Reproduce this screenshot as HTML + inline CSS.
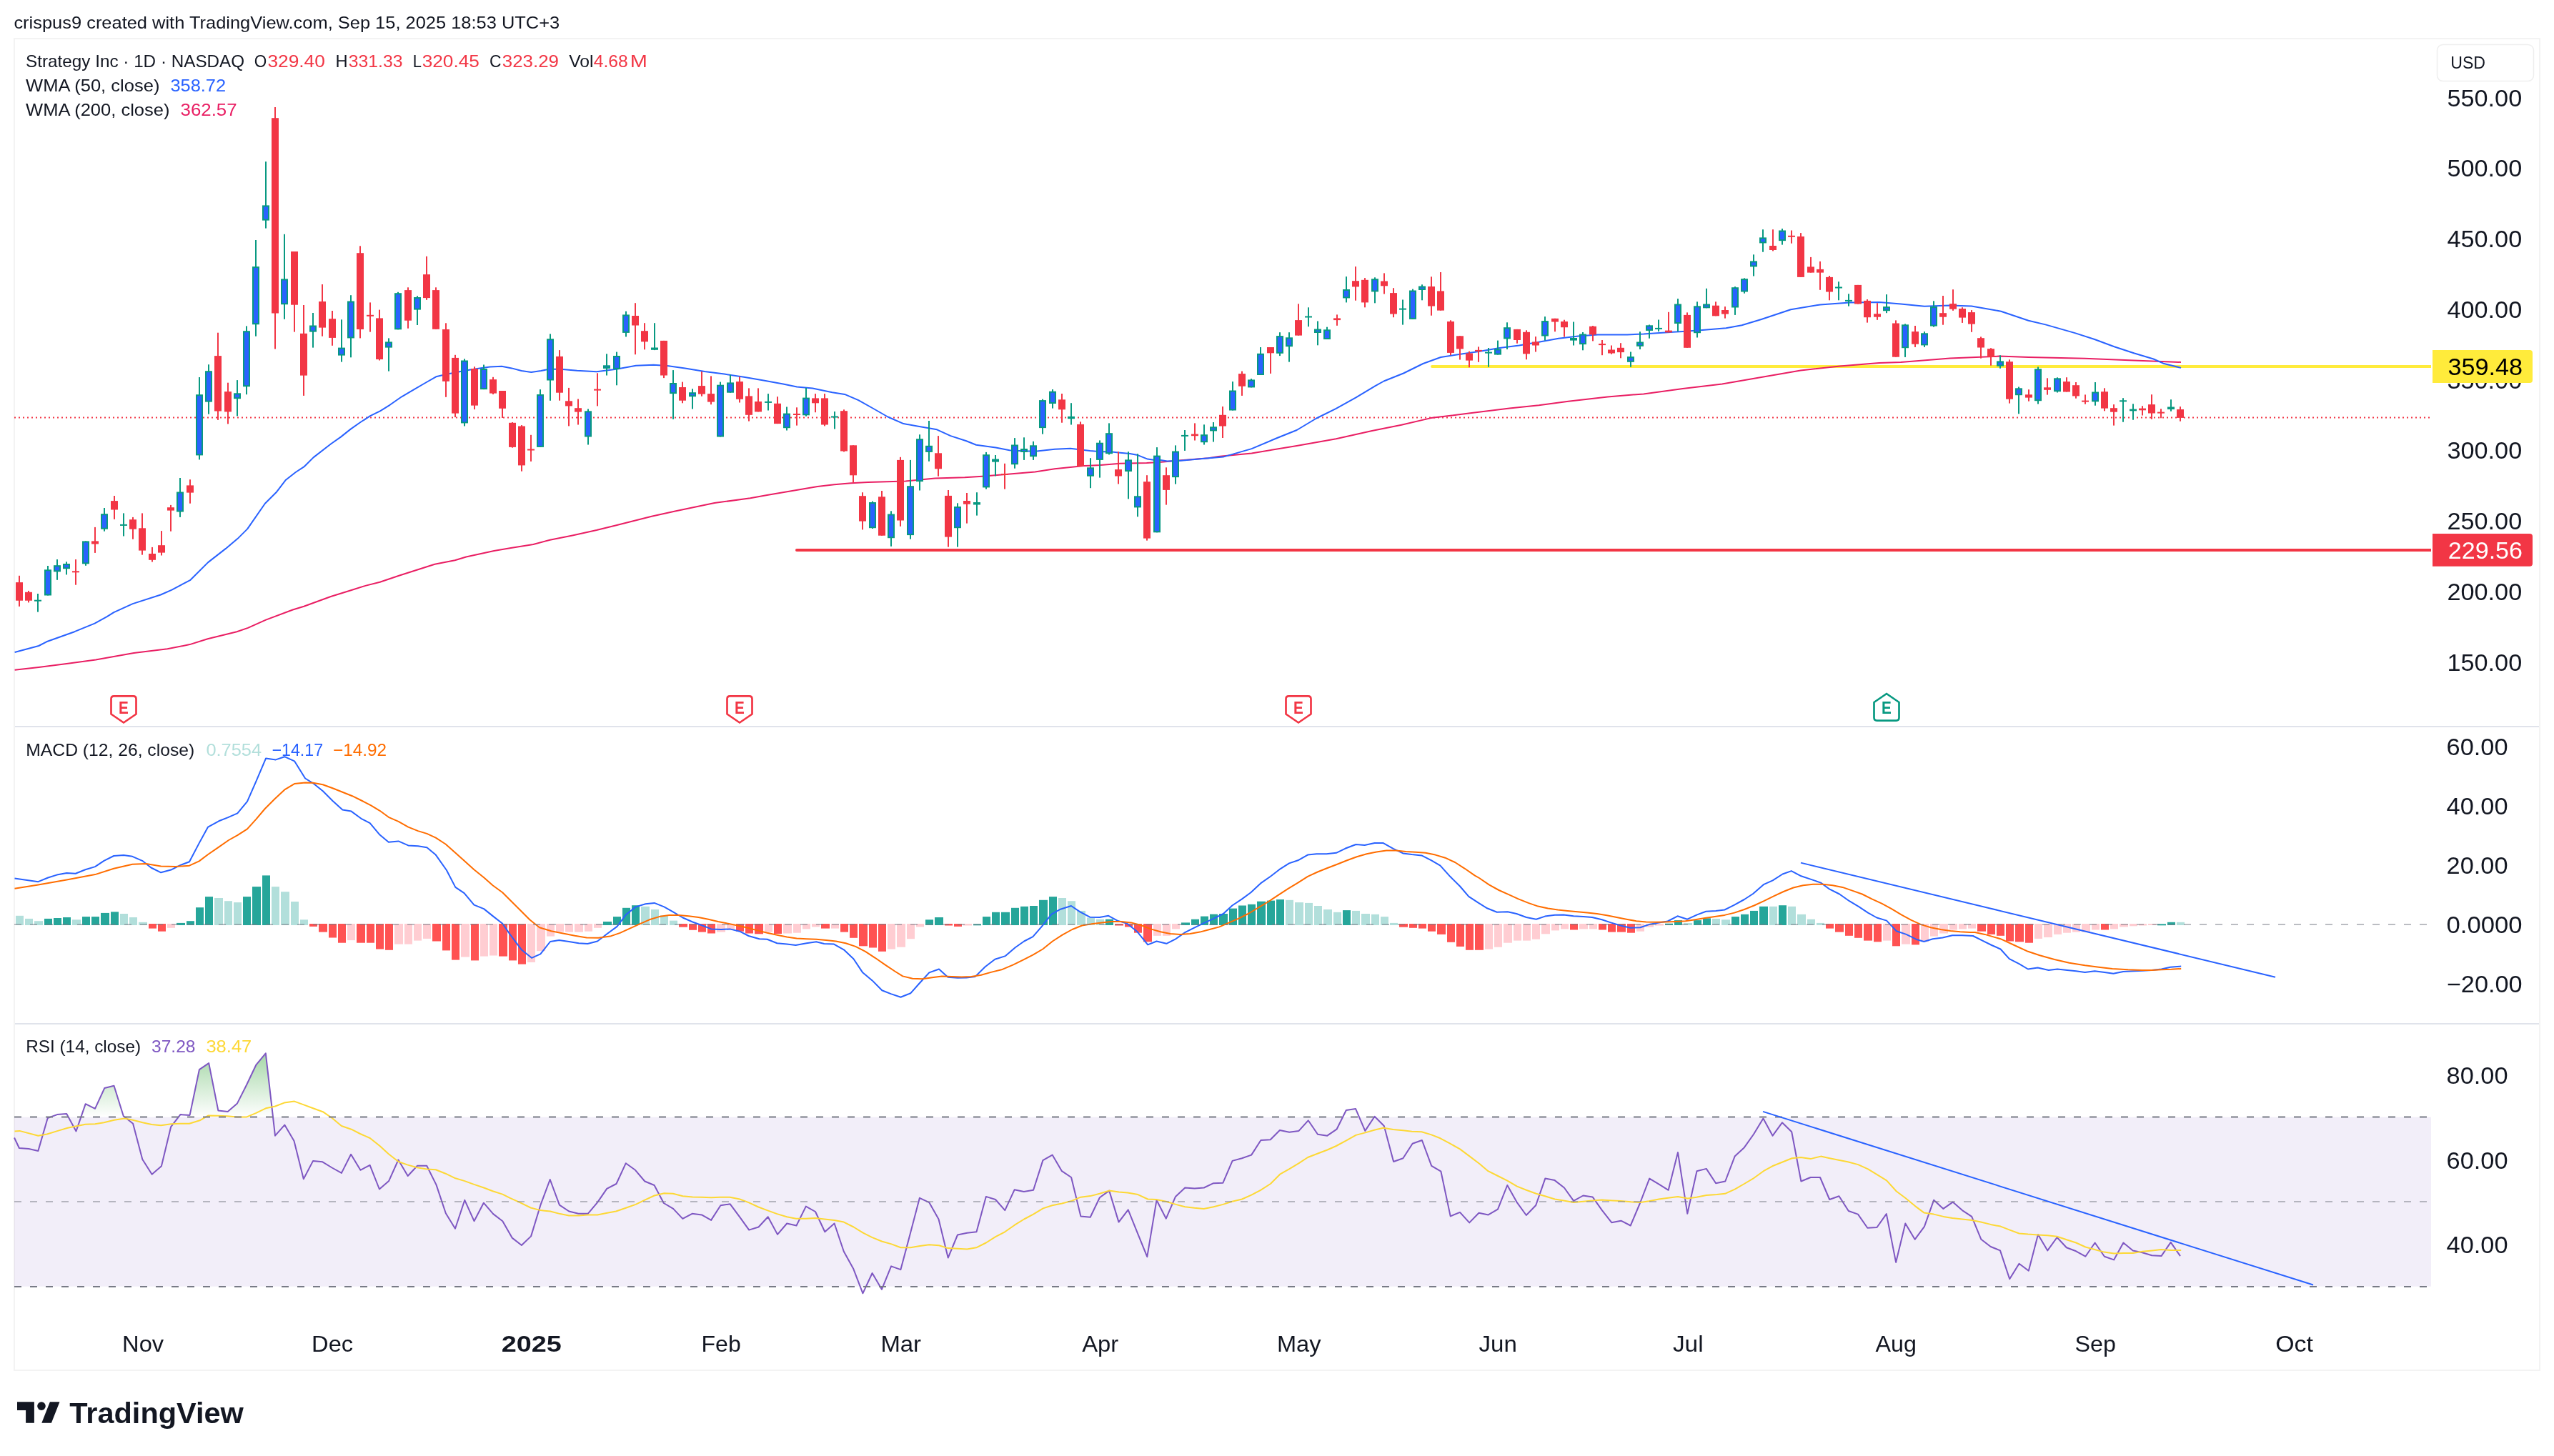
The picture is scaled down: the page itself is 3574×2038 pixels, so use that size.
<!DOCTYPE html>
<html><head><meta charset="utf-8"><title>Strategy Inc chart</title>
<style>html,body{margin:0;padding:0;background:#fff;}body{width:3574px;height:2038px;overflow:hidden}svg{display:block;will-change:transform}</style>
</head><body>
<svg width="3574" height="2038" viewBox="0 0 3574 2038" font-family="'Liberation Sans', Arial, sans-serif" shape-rendering="auto">
<defs>
<linearGradient id="ob" gradientUnits="userSpaceOnUse" x1="0" y1="1386" x2="0" y2="1563.6"><stop offset="0" stop-color="#4CAF50" stop-opacity="1"/><stop offset="1" stop-color="#4CAF50" stop-opacity="0"/></linearGradient>
<linearGradient id="os" gradientUnits="userSpaceOnUse" x1="0" y1="1800.7" x2="0" y2="1978"><stop offset="0" stop-color="#FF5252" stop-opacity="0"/><stop offset="1" stop-color="#FF5252" stop-opacity="1"/></linearGradient>
<clipPath id="cpOB"><rect x="20" y="1434" width="3382" height="129.6"/></clipPath>
<clipPath id="cpOS"><rect x="20" y="1800.7" width="3382" height="30"/></clipPath>
<clipPath id="cpMain"><rect x="20" y="55" width="3382" height="961"/></clipPath>
</defs>
<rect width="3574" height="2038" fill="#ffffff"/>
<text x="19.4" y="40" font-size="24" fill="#131722" textLength="763.8" lengthAdjust="spacingAndGlyphs">crispus9 created with TradingView.com, Sep 15, 2025 18:53 UTC+3</text>
<rect x="20" y="54" width="3534" height="1864" fill="none" stroke="#F3F3F3" stroke-width="2"/>
<rect x="21" y="1016" width="3532" height="2" fill="#E0E3EB"/>
<rect x="21" y="1432" width="3532" height="2" fill="#E0E3EB"/>
<g clip-path="url(#cpMain)">
<line x1="20" y1="584.5" x2="3402" y2="584.5" stroke="#F23645" stroke-width="2" stroke-dasharray="2 4"/>
<line x1="2004" y1="513" x2="3402" y2="513" stroke="#FFEB3B" stroke-width="4" stroke-linecap="round"/>
<line x1="1115" y1="770" x2="3402" y2="770" stroke="#F23645" stroke-width="4" stroke-linecap="round"/>
<polyline points="20.6,937.8 54.2,934 93.3,929 134,923.4 187.3,914 234.3,908.3 265.6,902.1 290.6,894.2 331.4,884.2 347,878.9 372.1,867.6 409.7,853.5 425.3,848.8 462.9,835 491.1,826.3 511.3,819.9 531.7,814.8 558.3,805.8 608.4,789.7 636.6,784.2 652.3,779.5 691.4,770.9 714.9,767 746.3,762 769.7,755.7 801.1,749.4 834.9,742 862.4,735.2 911.9,722.8 944.8,715.4 999.8,704.1 1050,697.2 1073.5,692.9 1108.7,687 1144,681.1 1167.5,678.2 1191,676.2 1214.5,675 1249.7,674.1 1267.3,673.5 1284.9,671.7 1308.4,669.4 1350,668.2 1374.3,666.7 1407.3,664 1448.5,660.4 1475.9,656.3 1517.1,652.1 1540,650.9 1567.5,648.8 1604.6,648.1 1625.2,646.7 1649.9,644.6 1691.1,641.2 1704.8,639.1 1751.5,634.4 1814.7,624 1869.7,614.3 1920,603 1961.2,594.7 2002.4,585.1 2057.4,578.2 2112.3,571.4 2153.5,567.3 2194.7,561.8 2249.7,555.4 2300,551.4 2354.9,544 2409.9,537.6 2464.8,528 2519.8,518.4 2574.7,512.4 2629.7,508 2660,506.9 2728.7,501.4 2797.4,498.6 2838.6,500 2917.4,501.8 2986,504.6 3052,507" fill="none" stroke="#E91E63" stroke-width="2" stroke-linejoin="round"/>
<polyline points="20.6,913 54.2,904 65.1,898.3 104.3,884.2 132.5,872.6 149.7,863.2 159.3,857.1 185.7,845.1 224.9,832.5 240.5,825.6 266.5,811.8 291.2,787.1 315.9,767.9 332.4,754.1 346.2,740.4 370.9,704.7 387.4,688.2 400,671.7 413.7,661 426.1,652.8 438.5,640.4 463.2,621.2 476.9,611.6 490.7,600.6 504.4,591 518.1,582.2 531.9,575.3 545.6,566.8 562.1,555.3 578.6,545.7 595.1,536 610.2,527.3 619.8,525 639,520.9 658.2,517.6 674.7,514.9 685.7,513.5 702.2,512.7 716,515.4 729.7,519 743.4,520.9 757.1,519 768.1,516.8 784.6,516.8 807.5,518.7 834.9,520.3 862.4,516.8 889.9,511.8 914.6,510.7 933.8,512.1 958.6,515.4 986,520 1013.5,523.6 1041,527.7 1068.5,532.4 1095.9,537.4 1115.2,541.5 1137.1,543.4 1164.6,549.2 1182,551.9 1201.2,560.1 1223.2,572.5 1242.4,583.5 1264.4,593.1 1283.6,596.4 1311.1,601.3 1330.3,610.1 1352.3,617.3 1366,622.7 1393.5,626.6 1412.7,630.2 1434.7,631.5 1451.2,631.5 1475.9,628.8 1497.9,627.7 1525.4,631 1540,632.2 1553.7,632.3 1567.5,633.7 1581.2,635 1592.2,637.1 1605.9,642.6 1614.2,643.7 1622.4,643.7 1633.4,645.6 1649.9,645.1 1677.4,642.6 1711.7,639.6 1732.3,633.6 1751.5,628.1 1787.3,613 1814.7,602 1842.2,585.5 1869.7,571.8 1897.1,556.6 1924.6,540.2 1936.5,533.5 1964,522.5 1991.4,509 2016.2,500 2043.6,495.8 2071.1,491.7 2098.6,487 2126,483.5 2153.5,478.8 2181,473.8 2208.5,470.5 2235.9,468.4 2277.1,468.4 2300,467.6 2341.2,464.8 2354.9,464 2382.4,462.1 2415.4,459.3 2437.4,455.2 2464.8,447 2506,433.2 2547.3,426.4 2588.5,423.6 2629.7,423.1 2660,425.4 2693,428.8 2728.7,427.5 2758.9,428.4 2800.1,435.7 2838.6,448.8 2862.4,454.4 2903.6,466.1 2931.1,475 2958.6,485.3 2986,494.3 3013.5,502.5 3027.3,508.7 3052,514.9" fill="none" stroke="#2962FF" stroke-width="2" stroke-linejoin="round"/>
<rect x="26" y="805.8" width="2" height="43.1" fill="#F23645"/>
<rect x="22" y="815.1" width="10" height="25.6" fill="#F23645"/>
<rect x="39" y="826.9" width="2" height="16.5" fill="#F23645"/>
<rect x="35" y="828.8" width="10" height="11.9" fill="#F23645"/>
<rect x="52" y="831" width="2" height="25.6" fill="#089981"/>
<rect x="48" y="839.7" width="10" height="2" fill="#089981"/>
<rect x="66" y="792" width="2" height="41.5" fill="#089981"/>
<rect x="62" y="797.3" width="10" height="36.2" fill="#089981"/>
<rect x="64" y="799.3" width="6" height="32.2" fill="#2962FF"/>
<rect x="79" y="783" width="2" height="28.8" fill="#089981"/>
<rect x="75" y="791.2" width="10" height="9.1" fill="#089981"/>
<rect x="77" y="793.2" width="6" height="5.1" fill="#2962FF"/>
<rect x="92" y="786.3" width="2" height="18.1" fill="#089981"/>
<rect x="88" y="789" width="10" height="7.2" fill="#089981"/>
<rect x="90" y="791" width="6" height="3.2" fill="#2962FF"/>
<rect x="105" y="783" width="2" height="35.7" fill="#F23645"/>
<rect x="101" y="799.3" width="10" height="2" fill="#F23645"/>
<rect x="119" y="757.4" width="2" height="34.4" fill="#089981"/>
<rect x="115" y="757.4" width="10" height="31.9" fill="#089981"/>
<rect x="117" y="759.4" width="6" height="27.9" fill="#2962FF"/>
<rect x="132" y="737.9" width="2" height="36" fill="#F23645"/>
<rect x="128" y="757.4" width="10" height="4.1" fill="#F23645"/>
<rect x="145" y="711" width="2" height="32.7" fill="#089981"/>
<rect x="141" y="719.2" width="10" height="21.5" fill="#089981"/>
<rect x="143" y="721.2" width="6" height="17.5" fill="#2962FF"/>
<rect x="159" y="694" width="2" height="32.9" fill="#F23645"/>
<rect x="155" y="701.1" width="10" height="12.4" fill="#F23645"/>
<rect x="172" y="718.4" width="2" height="32.1" fill="#089981"/>
<rect x="168" y="733.9" width="10" height="2" fill="#089981"/>
<rect x="185" y="723.9" width="2" height="30.8" fill="#F23645"/>
<rect x="181" y="727.2" width="10" height="13.5" fill="#F23645"/>
<rect x="198" y="718.4" width="2" height="58.2" fill="#F23645"/>
<rect x="194" y="739.3" width="10" height="31.3" fill="#F23645"/>
<rect x="212" y="765.9" width="2" height="20.6" fill="#F23645"/>
<rect x="208" y="775" width="10" height="8.8" fill="#F23645"/>
<rect x="225" y="743.1" width="2" height="34.4" fill="#F23645"/>
<rect x="221" y="763.2" width="10" height="10.4" fill="#F23645"/>
<rect x="238" y="706.9" width="2" height="36.8" fill="#F23645"/>
<rect x="234" y="710.2" width="10" height="4.4" fill="#F23645"/>
<rect x="251" y="669" width="2" height="54.9" fill="#089981"/>
<rect x="247" y="688.5" width="10" height="28" fill="#089981"/>
<rect x="249" y="690.5" width="6" height="24" fill="#2962FF"/>
<rect x="265" y="671.2" width="2" height="33.5" fill="#F23645"/>
<rect x="261" y="679.4" width="10" height="10.2" fill="#F23645"/>
<rect x="278" y="528" width="2" height="115.4" fill="#089981"/>
<rect x="274" y="552.2" width="10" height="85.2" fill="#089981"/>
<rect x="276" y="554.2" width="6" height="81.2" fill="#2962FF"/>
<rect x="291" y="510.2" width="2" height="69.5" fill="#089981"/>
<rect x="287" y="519.2" width="10" height="43.4" fill="#089981"/>
<rect x="289" y="521.2" width="6" height="39.4" fill="#2962FF"/>
<rect x="304" y="465.7" width="2" height="122.2" fill="#F23645"/>
<rect x="300" y="498.1" width="10" height="77.4" fill="#F23645"/>
<rect x="318" y="535.7" width="2" height="57.7" fill="#F23645"/>
<rect x="314" y="548.1" width="10" height="28.3" fill="#F23645"/>
<rect x="331" y="532.1" width="2" height="50.3" fill="#089981"/>
<rect x="327" y="550.3" width="10" height="7.9" fill="#089981"/>
<rect x="329" y="552.3" width="6" height="3.9" fill="#2962FF"/>
<rect x="344" y="456.4" width="2" height="95.8" fill="#089981"/>
<rect x="340" y="463.2" width="10" height="78" fill="#089981"/>
<rect x="342" y="465.2" width="6" height="74" fill="#2962FF"/>
<rect x="357" y="336" width="2" height="134.7" fill="#089981"/>
<rect x="353" y="373.1" width="10" height="81.1" fill="#089981"/>
<rect x="355" y="375.1" width="6" height="77.1" fill="#2962FF"/>
<rect x="371" y="226.2" width="2" height="93.4" fill="#089981"/>
<rect x="367" y="287.4" width="10" height="21.2" fill="#089981"/>
<rect x="369" y="289.4" width="6" height="17.2" fill="#2962FF"/>
<rect x="384" y="150" width="2" height="338.5" fill="#F23645"/>
<rect x="380" y="165.2" width="10" height="273.3" fill="#F23645"/>
<rect x="397" y="327.8" width="2" height="119" fill="#089981"/>
<rect x="393" y="390.4" width="10" height="35.8" fill="#089981"/>
<rect x="395" y="392.4" width="6" height="31.8" fill="#2962FF"/>
<rect x="411" y="352" width="2" height="112.6" fill="#F23645"/>
<rect x="407" y="352" width="10" height="74.7" fill="#F23645"/>
<rect x="424" y="427" width="2" height="126.9" fill="#F23645"/>
<rect x="420" y="466.8" width="10" height="58.8" fill="#F23645"/>
<rect x="437" y="438" width="2" height="48.6" fill="#089981"/>
<rect x="433" y="455.5" width="10" height="9.1" fill="#089981"/>
<rect x="435" y="457.5" width="6" height="5.1" fill="#2962FF"/>
<rect x="450" y="398" width="2" height="72.7" fill="#F23645"/>
<rect x="446" y="422" width="10" height="36.6" fill="#F23645"/>
<rect x="464" y="435" width="2" height="48.8" fill="#F23645"/>
<rect x="460" y="446.2" width="10" height="26.7" fill="#F23645"/>
<rect x="477" y="447.3" width="2" height="59.3" fill="#089981"/>
<rect x="473" y="486.6" width="10" height="11" fill="#089981"/>
<rect x="475" y="488.6" width="6" height="7" fill="#2962FF"/>
<rect x="490" y="413.2" width="2" height="87.1" fill="#089981"/>
<rect x="486" y="421.5" width="10" height="51.9" fill="#089981"/>
<rect x="488" y="423.5" width="6" height="47.9" fill="#2962FF"/>
<rect x="503" y="344.3" width="2" height="129.1" fill="#F23645"/>
<rect x="499" y="354.2" width="10" height="106.8" fill="#F23645"/>
<rect x="517" y="423.4" width="2" height="41.2" fill="#F23645"/>
<rect x="513" y="440.8" width="10" height="2" fill="#F23645"/>
<rect x="530" y="433.6" width="2" height="70.9" fill="#F23645"/>
<rect x="526" y="445.4" width="10" height="57.6" fill="#F23645"/>
<rect x="543" y="473.4" width="2" height="46.2" fill="#089981"/>
<rect x="539" y="478.4" width="10" height="8.2" fill="#089981"/>
<rect x="541" y="480.4" width="6" height="4.2" fill="#2962FF"/>
<rect x="556" y="408.8" width="2" height="52.5" fill="#089981"/>
<rect x="552" y="410.2" width="10" height="51.1" fill="#089981"/>
<rect x="554" y="412.2" width="6" height="47.1" fill="#2962FF"/>
<rect x="570" y="402.3" width="2" height="57.4" fill="#F23645"/>
<rect x="566" y="406.1" width="10" height="42.6" fill="#F23645"/>
<rect x="583" y="414.3" width="2" height="40.7" fill="#089981"/>
<rect x="579" y="416" width="10" height="17.6" fill="#089981"/>
<rect x="581" y="418" width="6" height="13.6" fill="#2962FF"/>
<rect x="596" y="358.8" width="2" height="61" fill="#F23645"/>
<rect x="592" y="384.1" width="10" height="33" fill="#F23645"/>
<rect x="609" y="402.3" width="2" height="58.5" fill="#F23645"/>
<rect x="605" y="406.1" width="10" height="54.7" fill="#F23645"/>
<rect x="623" y="452.3" width="2" height="103.5" fill="#F23645"/>
<rect x="619" y="461" width="10" height="72.8" fill="#F23645"/>
<rect x="636" y="496.8" width="2" height="87.3" fill="#F23645"/>
<rect x="632" y="500.9" width="10" height="77.7" fill="#F23645"/>
<rect x="649" y="502.3" width="2" height="94.2" fill="#089981"/>
<rect x="645" y="504.5" width="10" height="87.9" fill="#089981"/>
<rect x="647" y="506.5" width="6" height="83.9" fill="#2962FF"/>
<rect x="663" y="513.2" width="2" height="59.9" fill="#F23645"/>
<rect x="659" y="516" width="10" height="51.6" fill="#F23645"/>
<rect x="676" y="510.5" width="2" height="34.6" fill="#089981"/>
<rect x="672" y="516" width="10" height="29.1" fill="#089981"/>
<rect x="674" y="518" width="6" height="25.1" fill="#2962FF"/>
<rect x="689" y="527.8" width="2" height="24.2" fill="#F23645"/>
<rect x="685" y="531.1" width="10" height="19.5" fill="#F23645"/>
<rect x="702" y="547" width="2" height="38" fill="#F23645"/>
<rect x="698" y="547" width="10" height="24.8" fill="#F23645"/>
<rect x="716" y="591" width="2" height="35.7" fill="#F23645"/>
<rect x="712" y="591.8" width="10" height="34.1" fill="#F23645"/>
<rect x="729" y="595.1" width="2" height="64.6" fill="#F23645"/>
<rect x="725" y="596.5" width="10" height="54.9" fill="#F23645"/>
<rect x="742" y="608.8" width="2" height="37.1" fill="#F23645"/>
<rect x="738" y="628.5" width="10" height="2" fill="#F23645"/>
<rect x="755" y="545.1" width="2" height="80.8" fill="#089981"/>
<rect x="751" y="552" width="10" height="73.9" fill="#089981"/>
<rect x="753" y="554" width="6" height="69.9" fill="#2962FF"/>
<rect x="769" y="467.4" width="2" height="93.4" fill="#089981"/>
<rect x="765" y="474.2" width="10" height="58.3" fill="#089981"/>
<rect x="767" y="476.2" width="6" height="54.3" fill="#2962FF"/>
<rect x="782" y="490.1" width="2" height="70.6" fill="#F23645"/>
<rect x="778" y="498.9" width="10" height="50.8" fill="#F23645"/>
<rect x="795" y="542.9" width="2" height="53.5" fill="#F23645"/>
<rect x="791" y="561.3" width="10" height="7.1" fill="#F23645"/>
<rect x="808" y="558.5" width="2" height="36" fill="#F23645"/>
<rect x="804" y="571.2" width="10" height="5.4" fill="#F23645"/>
<rect x="822" y="572.5" width="2" height="50" fill="#089981"/>
<rect x="818" y="575.3" width="10" height="36.2" fill="#089981"/>
<rect x="820" y="577.3" width="6" height="32.2" fill="#2962FF"/>
<rect x="835" y="522.3" width="2" height="46.1" fill="#F23645"/>
<rect x="831" y="544.6" width="10" height="2" fill="#F23645"/>
<rect x="848" y="495.3" width="2" height="30.2" fill="#089981"/>
<rect x="844" y="511.3" width="10" height="4.6" fill="#089981"/>
<rect x="846" y="513.3" width="6" height="0.6" fill="#2962FF"/>
<rect x="862" y="492.6" width="2" height="46.7" fill="#089981"/>
<rect x="858" y="498" width="10" height="18.8" fill="#089981"/>
<rect x="860" y="500" width="6" height="14.8" fill="#2962FF"/>
<rect x="875" y="435.7" width="2" height="35.7" fill="#089981"/>
<rect x="871" y="440.4" width="10" height="25.5" fill="#089981"/>
<rect x="873" y="442.4" width="6" height="21.5" fill="#2962FF"/>
<rect x="888" y="424.2" width="2" height="72" fill="#F23645"/>
<rect x="884" y="442" width="10" height="13.5" fill="#F23645"/>
<rect x="901" y="452.2" width="2" height="37.1" fill="#F23645"/>
<rect x="897" y="463.2" width="10" height="15.1" fill="#F23645"/>
<rect x="915" y="452.2" width="2" height="37.9" fill="#089981"/>
<rect x="911" y="486.5" width="10" height="3.3" fill="#089981"/>
<rect x="928" y="476.9" width="2" height="52.2" fill="#F23645"/>
<rect x="924" y="476.9" width="10" height="48.6" fill="#F23645"/>
<rect x="941" y="518.1" width="2" height="68.7" fill="#089981"/>
<rect x="937" y="536" width="10" height="15.1" fill="#089981"/>
<rect x="939" y="538" width="6" height="11.1" fill="#2962FF"/>
<rect x="954" y="534.6" width="2" height="29.7" fill="#F23645"/>
<rect x="950" y="542" width="10" height="18.7" fill="#F23645"/>
<rect x="968" y="544.2" width="2" height="28.3" fill="#089981"/>
<rect x="964" y="549.2" width="10" height="6" fill="#089981"/>
<rect x="966" y="551.2" width="6" height="2" fill="#2962FF"/>
<rect x="981" y="520" width="2" height="34.7" fill="#F23645"/>
<rect x="977" y="540.1" width="10" height="11.5" fill="#F23645"/>
<rect x="994" y="526.4" width="2" height="39.8" fill="#F23645"/>
<rect x="990" y="551.1" width="10" height="11.5" fill="#F23645"/>
<rect x="1007" y="534.6" width="2" height="76.9" fill="#089981"/>
<rect x="1003" y="538.7" width="10" height="72.8" fill="#089981"/>
<rect x="1005" y="540.7" width="6" height="68.8" fill="#2962FF"/>
<rect x="1021" y="524.5" width="2" height="25.2" fill="#089981"/>
<rect x="1017" y="535.4" width="10" height="14.3" fill="#089981"/>
<rect x="1019" y="537.4" width="6" height="10.3" fill="#2962FF"/>
<rect x="1034" y="527.2" width="2" height="36.3" fill="#F23645"/>
<rect x="1030" y="534.1" width="10" height="24.7" fill="#F23645"/>
<rect x="1047" y="543.4" width="2" height="46.2" fill="#F23645"/>
<rect x="1043" y="554.4" width="10" height="26.4" fill="#F23645"/>
<rect x="1060" y="543.4" width="2" height="33" fill="#F23645"/>
<rect x="1056" y="562" width="10" height="14.4" fill="#F23645"/>
<rect x="1074" y="551.1" width="2" height="23.4" fill="#089981"/>
<rect x="1070" y="561.9" width="10" height="2" fill="#089981"/>
<rect x="1087" y="555.2" width="2" height="37.9" fill="#F23645"/>
<rect x="1083" y="564.8" width="10" height="28.3" fill="#F23645"/>
<rect x="1100" y="569.5" width="2" height="33" fill="#089981"/>
<rect x="1096" y="578.6" width="10" height="20.6" fill="#089981"/>
<rect x="1098" y="580.6" width="6" height="16.6" fill="#2962FF"/>
<rect x="1114" y="570.3" width="2" height="25.3" fill="#F23645"/>
<rect x="1110" y="579" width="10" height="2" fill="#F23645"/>
<rect x="1127" y="542.9" width="2" height="39.8" fill="#089981"/>
<rect x="1123" y="556.6" width="10" height="24.7" fill="#089981"/>
<rect x="1125" y="558.6" width="6" height="20.7" fill="#2962FF"/>
<rect x="1140" y="551.1" width="2" height="26.1" fill="#F23645"/>
<rect x="1136" y="557.4" width="10" height="6.9" fill="#F23645"/>
<rect x="1153" y="551.1" width="2" height="45.3" fill="#F23645"/>
<rect x="1149" y="557.4" width="10" height="37.1" fill="#F23645"/>
<rect x="1167" y="576" width="2" height="24.5" fill="#089981"/>
<rect x="1163" y="582.5" width="10" height="2" fill="#089981"/>
<rect x="1180" y="573.3" width="2" height="59.1" fill="#F23645"/>
<rect x="1176" y="575.2" width="10" height="56.3" fill="#F23645"/>
<rect x="1193" y="623.3" width="2" height="52.2" fill="#F23645"/>
<rect x="1189" y="623.3" width="10" height="42" fill="#F23645"/>
<rect x="1206" y="689.2" width="2" height="52.2" fill="#F23645"/>
<rect x="1202" y="694.2" width="10" height="35.4" fill="#F23645"/>
<rect x="1220" y="701.6" width="2" height="38.4" fill="#089981"/>
<rect x="1216" y="703" width="10" height="36.2" fill="#089981"/>
<rect x="1218" y="705" width="6" height="32.2" fill="#2962FF"/>
<rect x="1233" y="687" width="2" height="62.7" fill="#F23645"/>
<rect x="1229" y="695.3" width="10" height="54.4" fill="#F23645"/>
<rect x="1246" y="715.3" width="2" height="49.5" fill="#089981"/>
<rect x="1242" y="719.5" width="10" height="33.7" fill="#089981"/>
<rect x="1244" y="721.5" width="6" height="29.7" fill="#2962FF"/>
<rect x="1259" y="639.8" width="2" height="97" fill="#F23645"/>
<rect x="1255" y="643.9" width="10" height="84.6" fill="#F23645"/>
<rect x="1273" y="643.9" width="2" height="110.7" fill="#089981"/>
<rect x="1269" y="680.2" width="10" height="68.9" fill="#089981"/>
<rect x="1271" y="682.2" width="6" height="64.9" fill="#2962FF"/>
<rect x="1286" y="608.2" width="2" height="78.3" fill="#089981"/>
<rect x="1282" y="614.2" width="10" height="59.9" fill="#089981"/>
<rect x="1284" y="616.2" width="6" height="55.9" fill="#2962FF"/>
<rect x="1299" y="589" width="2" height="56.8" fill="#089981"/>
<rect x="1295" y="623.8" width="10" height="9.1" fill="#089981"/>
<rect x="1297" y="625.8" width="6" height="5.1" fill="#2962FF"/>
<rect x="1312" y="610.1" width="2" height="56.6" fill="#F23645"/>
<rect x="1308" y="634.3" width="10" height="22" fill="#F23645"/>
<rect x="1326" y="686" width="2" height="79.6" fill="#F23645"/>
<rect x="1322" y="693.9" width="10" height="57.7" fill="#F23645"/>
<rect x="1339" y="704.3" width="2" height="61.3" fill="#089981"/>
<rect x="1335" y="709" width="10" height="30.2" fill="#089981"/>
<rect x="1337" y="711" width="6" height="26.2" fill="#2962FF"/>
<rect x="1352" y="690" width="2" height="42.6" fill="#F23645"/>
<rect x="1348" y="701" width="10" height="4.7" fill="#F23645"/>
<rect x="1366" y="689.2" width="2" height="32.4" fill="#089981"/>
<rect x="1362" y="703" width="10" height="3.5" fill="#089981"/>
<rect x="1379" y="632.9" width="2" height="51.7" fill="#089981"/>
<rect x="1375" y="636.2" width="10" height="46.2" fill="#089981"/>
<rect x="1377" y="638.2" width="6" height="42.2" fill="#2962FF"/>
<rect x="1392" y="637" width="2" height="29.4" fill="#089981"/>
<rect x="1388" y="642.5" width="10" height="4.1" fill="#089981"/>
<rect x="1390" y="644.5" width="6" height="0.1" fill="#2962FF"/>
<rect x="1405" y="648.8" width="2" height="35.8" fill="#F23645"/>
<rect x="1401" y="663" width="10" height="2" fill="#F23645"/>
<rect x="1419" y="613.1" width="2" height="42.6" fill="#089981"/>
<rect x="1415" y="622.5" width="10" height="27.7" fill="#089981"/>
<rect x="1417" y="624.5" width="6" height="23.7" fill="#2962FF"/>
<rect x="1432" y="612.3" width="2" height="31.6" fill="#089981"/>
<rect x="1428" y="628" width="10" height="4.9" fill="#089981"/>
<rect x="1430" y="630" width="6" height="0.9" fill="#2962FF"/>
<rect x="1445" y="617.8" width="2" height="26.1" fill="#089981"/>
<rect x="1441" y="623.3" width="10" height="15.9" fill="#089981"/>
<rect x="1443" y="625.3" width="6" height="11.9" fill="#2962FF"/>
<rect x="1458" y="558.7" width="2" height="48.9" fill="#089981"/>
<rect x="1454" y="560.1" width="10" height="39" fill="#089981"/>
<rect x="1456" y="562.1" width="6" height="35" fill="#2962FF"/>
<rect x="1472" y="545" width="2" height="26.6" fill="#089981"/>
<rect x="1468" y="547.7" width="10" height="17.3" fill="#089981"/>
<rect x="1470" y="549.7" width="6" height="13.3" fill="#2962FF"/>
<rect x="1485" y="551" width="2" height="40.7" fill="#F23645"/>
<rect x="1481" y="559.3" width="10" height="14" fill="#F23645"/>
<rect x="1498" y="564.2" width="2" height="30.3" fill="#089981"/>
<rect x="1494" y="582.9" width="10" height="3.3" fill="#089981"/>
<rect x="1511" y="590.3" width="2" height="62.7" fill="#F23645"/>
<rect x="1507" y="593.9" width="10" height="59.1" fill="#F23645"/>
<rect x="1525" y="641.2" width="2" height="42" fill="#089981"/>
<rect x="1521" y="654.3" width="10" height="12.4" fill="#089981"/>
<rect x="1523" y="656.3" width="6" height="8.4" fill="#2962FF"/>
<rect x="1538" y="616.4" width="2" height="52.2" fill="#089981"/>
<rect x="1534" y="619.7" width="10" height="24.2" fill="#089981"/>
<rect x="1536" y="621.7" width="6" height="20.2" fill="#2962FF"/>
<rect x="1551" y="592.4" width="2" height="44" fill="#089981"/>
<rect x="1547" y="606.2" width="10" height="29" fill="#089981"/>
<rect x="1549" y="608.2" width="6" height="25" fill="#2962FF"/>
<rect x="1564" y="632.2" width="2" height="45.3" fill="#F23645"/>
<rect x="1560" y="657.1" width="10" height="9.4" fill="#F23645"/>
<rect x="1578" y="632.2" width="2" height="66.2" fill="#089981"/>
<rect x="1574" y="643.4" width="10" height="16.6" fill="#089981"/>
<rect x="1576" y="645.4" width="6" height="12.6" fill="#2962FF"/>
<rect x="1591" y="635.2" width="2" height="88.1" fill="#089981"/>
<rect x="1587" y="694.3" width="10" height="16.1" fill="#089981"/>
<rect x="1589" y="696.3" width="6" height="12.1" fill="#2962FF"/>
<rect x="1604" y="665.2" width="2" height="91.4" fill="#F23645"/>
<rect x="1600" y="674.2" width="10" height="79.4" fill="#F23645"/>
<rect x="1618" y="626.1" width="2" height="119.2" fill="#089981"/>
<rect x="1614" y="637.6" width="10" height="107.7" fill="#089981"/>
<rect x="1616" y="639.6" width="6" height="103.7" fill="#2962FF"/>
<rect x="1631" y="654.3" width="2" height="52.3" fill="#F23645"/>
<rect x="1627" y="665.2" width="10" height="20.7" fill="#F23645"/>
<rect x="1644" y="623.4" width="2" height="54.2" fill="#089981"/>
<rect x="1640" y="631.5" width="10" height="36.6" fill="#089981"/>
<rect x="1642" y="633.5" width="6" height="32.6" fill="#2962FF"/>
<rect x="1657" y="602" width="2" height="28.9" fill="#089981"/>
<rect x="1653" y="608.9" width="10" height="2" fill="#089981"/>
<rect x="1671" y="592.4" width="2" height="24.1" fill="#F23645"/>
<rect x="1667" y="607.5" width="10" height="2.7" fill="#F23645"/>
<rect x="1684" y="594.3" width="2" height="28.2" fill="#089981"/>
<rect x="1680" y="608.2" width="10" height="11" fill="#089981"/>
<rect x="1682" y="610.2" width="6" height="7" fill="#2962FF"/>
<rect x="1697" y="591" width="2" height="27.5" fill="#089981"/>
<rect x="1693" y="597.3" width="10" height="6.1" fill="#089981"/>
<rect x="1695" y="599.3" width="6" height="2.1" fill="#2962FF"/>
<rect x="1710" y="569" width="2" height="44" fill="#F23645"/>
<rect x="1706" y="580.8" width="10" height="15.7" fill="#F23645"/>
<rect x="1724" y="534.1" width="2" height="40.4" fill="#089981"/>
<rect x="1720" y="546.5" width="10" height="28" fill="#089981"/>
<rect x="1722" y="548.5" width="6" height="24" fill="#2962FF"/>
<rect x="1737" y="519.6" width="2" height="34.3" fill="#F23645"/>
<rect x="1733" y="523.1" width="10" height="17.6" fill="#F23645"/>
<rect x="1750" y="530" width="2" height="12.4" fill="#089981"/>
<rect x="1746" y="531.4" width="10" height="11" fill="#089981"/>
<rect x="1748" y="533.4" width="6" height="7" fill="#2962FF"/>
<rect x="1763" y="486" width="2" height="39" fill="#089981"/>
<rect x="1759" y="494.8" width="10" height="30.2" fill="#089981"/>
<rect x="1761" y="496.8" width="6" height="26.2" fill="#2962FF"/>
<rect x="1777" y="486" width="2" height="36.9" fill="#F23645"/>
<rect x="1773" y="486" width="10" height="8.3" fill="#F23645"/>
<rect x="1790" y="465.2" width="2" height="32.9" fill="#089981"/>
<rect x="1786" y="470.1" width="10" height="24.7" fill="#089981"/>
<rect x="1788" y="472.1" width="6" height="20.7" fill="#2962FF"/>
<rect x="1803" y="465.2" width="2" height="41.4" fill="#089981"/>
<rect x="1799" y="472.3" width="10" height="12.9" fill="#089981"/>
<rect x="1801" y="474.3" width="6" height="8.9" fill="#2962FF"/>
<rect x="1816" y="425.3" width="2" height="44.3" fill="#F23645"/>
<rect x="1812" y="448.1" width="10" height="21.5" fill="#F23645"/>
<rect x="1830" y="430.3" width="2" height="26.9" fill="#089981"/>
<rect x="1826" y="442.5" width="10" height="2" fill="#089981"/>
<rect x="1843" y="449.5" width="2" height="33.8" fill="#089981"/>
<rect x="1839" y="460.5" width="10" height="5.5" fill="#089981"/>
<rect x="1841" y="462.5" width="6" height="1.5" fill="#2962FF"/>
<rect x="1856" y="457.7" width="2" height="17.3" fill="#089981"/>
<rect x="1852" y="461.3" width="10" height="13.7" fill="#089981"/>
<rect x="1854" y="463.3" width="6" height="9.7" fill="#2962FF"/>
<rect x="1870" y="440.4" width="2" height="15.4" fill="#F23645"/>
<rect x="1866" y="445.4" width="10" height="2.7" fill="#F23645"/>
<rect x="1883" y="387.1" width="2" height="36.3" fill="#089981"/>
<rect x="1879" y="405" width="10" height="12.4" fill="#089981"/>
<rect x="1881" y="407" width="6" height="8.4" fill="#2962FF"/>
<rect x="1896" y="373.1" width="2" height="47.6" fill="#F23645"/>
<rect x="1892" y="393.2" width="10" height="8.2" fill="#F23645"/>
<rect x="1909" y="389.1" width="2" height="41.2" fill="#F23645"/>
<rect x="1905" y="391.8" width="10" height="31.6" fill="#F23645"/>
<rect x="1923" y="388.3" width="2" height="36" fill="#089981"/>
<rect x="1919" y="390.2" width="10" height="18.2" fill="#089981"/>
<rect x="1921" y="392.2" width="6" height="14.2" fill="#2962FF"/>
<rect x="1936" y="382.4" width="2" height="29.1" fill="#F23645"/>
<rect x="1932" y="393.5" width="10" height="6.8" fill="#F23645"/>
<rect x="1949" y="403.2" width="2" height="41" fill="#F23645"/>
<rect x="1945" y="410.1" width="10" height="29.4" fill="#F23645"/>
<rect x="1962" y="419.5" width="2" height="35.1" fill="#089981"/>
<rect x="1958" y="431.6" width="10" height="2" fill="#089981"/>
<rect x="1976" y="404.6" width="2" height="42.3" fill="#089981"/>
<rect x="1972" y="406.5" width="10" height="40.4" fill="#089981"/>
<rect x="1974" y="408.5" width="6" height="36.4" fill="#2962FF"/>
<rect x="1989" y="398.3" width="2" height="22" fill="#089981"/>
<rect x="1985" y="400.5" width="10" height="5.5" fill="#089981"/>
<rect x="1987" y="402.5" width="6" height="1.5" fill="#2962FF"/>
<rect x="2002" y="387.3" width="2" height="54.4" fill="#F23645"/>
<rect x="1998" y="401" width="10" height="27.5" fill="#F23645"/>
<rect x="2015" y="381" width="2" height="53.6" fill="#F23645"/>
<rect x="2011" y="407.4" width="10" height="27.2" fill="#F23645"/>
<rect x="2029" y="448.3" width="2" height="48.9" fill="#F23645"/>
<rect x="2025" y="450" width="10" height="43.9" fill="#F23645"/>
<rect x="2042" y="470.3" width="2" height="33.2" fill="#F23645"/>
<rect x="2038" y="470.3" width="10" height="18.1" fill="#F23645"/>
<rect x="2055" y="491.7" width="2" height="22.5" fill="#F23645"/>
<rect x="2051" y="494.5" width="10" height="10.1" fill="#F23645"/>
<rect x="2068" y="485.4" width="2" height="21.4" fill="#F23645"/>
<rect x="2064" y="489.9" width="10" height="2" fill="#F23645"/>
<rect x="2082" y="487" width="2" height="26.7" fill="#089981"/>
<rect x="2078" y="492.6" width="10" height="2" fill="#089981"/>
<rect x="2095" y="476.6" width="2" height="20" fill="#089981"/>
<rect x="2091" y="488.4" width="10" height="8.2" fill="#089981"/>
<rect x="2093" y="490.4" width="6" height="4.2" fill="#2962FF"/>
<rect x="2108" y="451.3" width="2" height="37.7" fill="#089981"/>
<rect x="2104" y="458.2" width="10" height="16.2" fill="#089981"/>
<rect x="2106" y="460.2" width="6" height="12.2" fill="#2962FF"/>
<rect x="2122" y="460.9" width="2" height="19.8" fill="#F23645"/>
<rect x="2118" y="460.9" width="10" height="15.1" fill="#F23645"/>
<rect x="2135" y="462.3" width="2" height="40.9" fill="#F23645"/>
<rect x="2131" y="464.8" width="10" height="30.5" fill="#F23645"/>
<rect x="2148" y="471.1" width="2" height="21.4" fill="#F23645"/>
<rect x="2144" y="478.5" width="10" height="5" fill="#F23645"/>
<rect x="2161" y="443.1" width="2" height="33.5" fill="#089981"/>
<rect x="2157" y="449.1" width="10" height="21.4" fill="#089981"/>
<rect x="2159" y="451.1" width="6" height="17.4" fill="#2962FF"/>
<rect x="2175" y="445.8" width="2" height="18.4" fill="#F23645"/>
<rect x="2171" y="445.8" width="10" height="4.7" fill="#F23645"/>
<rect x="2188" y="447.7" width="2" height="23.9" fill="#F23645"/>
<rect x="2184" y="450" width="10" height="8.2" fill="#F23645"/>
<rect x="2201" y="450.5" width="2" height="33" fill="#089981"/>
<rect x="2197" y="473" width="10" height="3.6" fill="#089981"/>
<rect x="2214" y="465" width="2" height="25.3" fill="#089981"/>
<rect x="2210" y="467.5" width="10" height="14.6" fill="#089981"/>
<rect x="2212" y="469.5" width="6" height="10.6" fill="#2962FF"/>
<rect x="2228" y="456" width="2" height="21.4" fill="#F23645"/>
<rect x="2224" y="456.8" width="10" height="11.6" fill="#F23645"/>
<rect x="2241" y="476" width="2" height="21.2" fill="#F23645"/>
<rect x="2237" y="481.1" width="10" height="2" fill="#F23645"/>
<rect x="2254" y="483.5" width="2" height="12.3" fill="#F23645"/>
<rect x="2250" y="489.5" width="10" height="5" fill="#F23645"/>
<rect x="2267" y="480.2" width="2" height="21.1" fill="#F23645"/>
<rect x="2263" y="486.8" width="10" height="6.3" fill="#F23645"/>
<rect x="2281" y="492.5" width="2" height="21.2" fill="#089981"/>
<rect x="2277" y="499.1" width="10" height="7.7" fill="#089981"/>
<rect x="2279" y="501.1" width="6" height="3.7" fill="#2962FF"/>
<rect x="2294" y="464.2" width="2" height="24.8" fill="#089981"/>
<rect x="2290" y="478.5" width="10" height="6.3" fill="#089981"/>
<rect x="2292" y="480.5" width="6" height="2.3" fill="#2962FF"/>
<rect x="2307" y="454.5" width="2" height="19.2" fill="#089981"/>
<rect x="2303" y="455.3" width="10" height="7.6" fill="#089981"/>
<rect x="2305" y="457.3" width="6" height="3.6" fill="#2962FF"/>
<rect x="2320" y="447.5" width="2" height="16.5" fill="#089981"/>
<rect x="2316" y="458.9" width="10" height="2" fill="#089981"/>
<rect x="2334" y="436.8" width="2" height="28.6" fill="#F23645"/>
<rect x="2330" y="462.6" width="10" height="2.8" fill="#F23645"/>
<rect x="2347" y="418.1" width="2" height="45.9" fill="#089981"/>
<rect x="2343" y="425.5" width="10" height="27.5" fill="#089981"/>
<rect x="2345" y="427.5" width="6" height="23.5" fill="#2962FF"/>
<rect x="2360" y="437.4" width="2" height="49.4" fill="#F23645"/>
<rect x="2356" y="440.9" width="10" height="45.9" fill="#F23645"/>
<rect x="2374" y="422.3" width="2" height="50.2" fill="#089981"/>
<rect x="2370" y="428.3" width="10" height="37.9" fill="#089981"/>
<rect x="2372" y="430.3" width="6" height="33.9" fill="#2962FF"/>
<rect x="2387" y="403.8" width="2" height="27.5" fill="#089981"/>
<rect x="2383" y="425.5" width="10" height="5.8" fill="#089981"/>
<rect x="2385" y="427.5" width="6" height="1.8" fill="#2962FF"/>
<rect x="2400" y="422.3" width="2" height="20" fill="#F23645"/>
<rect x="2396" y="427.7" width="10" height="14.6" fill="#F23645"/>
<rect x="2413" y="429.1" width="2" height="16.5" fill="#F23645"/>
<rect x="2409" y="434" width="10" height="5.6" fill="#F23645"/>
<rect x="2427" y="401.1" width="2" height="39.8" fill="#089981"/>
<rect x="2423" y="402.2" width="10" height="28.3" fill="#089981"/>
<rect x="2425" y="404.2" width="6" height="24.3" fill="#2962FF"/>
<rect x="2440" y="389.3" width="2" height="21.4" fill="#089981"/>
<rect x="2436" y="390.1" width="10" height="18.4" fill="#089981"/>
<rect x="2438" y="392.1" width="6" height="14.4" fill="#2962FF"/>
<rect x="2453" y="356.3" width="2" height="30.2" fill="#089981"/>
<rect x="2449" y="365.4" width="10" height="8" fill="#089981"/>
<rect x="2451" y="367.4" width="6" height="4" fill="#2962FF"/>
<rect x="2466" y="321.2" width="2" height="31.5" fill="#089981"/>
<rect x="2462" y="332.4" width="10" height="8" fill="#089981"/>
<rect x="2464" y="334.4" width="6" height="4" fill="#2962FF"/>
<rect x="2480" y="321.2" width="2" height="30.2" fill="#F23645"/>
<rect x="2476" y="344" width="10" height="6" fill="#F23645"/>
<rect x="2493" y="320" width="2" height="22.6" fill="#089981"/>
<rect x="2489" y="322.5" width="10" height="14.6" fill="#089981"/>
<rect x="2491" y="324.5" width="6" height="10.6" fill="#2962FF"/>
<rect x="2506" y="322.5" width="2" height="18.2" fill="#F23645"/>
<rect x="2502" y="329.8" width="10" height="2" fill="#F23645"/>
<rect x="2519" y="326.1" width="2" height="61.8" fill="#F23645"/>
<rect x="2515" y="331" width="10" height="56.9" fill="#F23645"/>
<rect x="2533" y="359.9" width="2" height="21.7" fill="#F23645"/>
<rect x="2529" y="373.4" width="10" height="8.2" fill="#F23645"/>
<rect x="2546" y="365.9" width="2" height="39.9" fill="#F23645"/>
<rect x="2542" y="376.9" width="10" height="4.7" fill="#F23645"/>
<rect x="2559" y="386" width="2" height="34.3" fill="#F23645"/>
<rect x="2555" y="387.9" width="10" height="20.6" fill="#F23645"/>
<rect x="2572" y="394.2" width="2" height="26.1" fill="#089981"/>
<rect x="2568" y="401.5" width="10" height="2" fill="#089981"/>
<rect x="2586" y="411.3" width="2" height="17.3" fill="#089981"/>
<rect x="2582" y="419.9" width="10" height="2" fill="#089981"/>
<rect x="2599" y="398.9" width="2" height="26.6" fill="#F23645"/>
<rect x="2595" y="398.9" width="10" height="26.6" fill="#F23645"/>
<rect x="2612" y="419" width="2" height="32.6" fill="#F23645"/>
<rect x="2608" y="420.9" width="10" height="23.3" fill="#F23645"/>
<rect x="2626" y="424.2" width="2" height="23.6" fill="#F23645"/>
<rect x="2622" y="439.3" width="10" height="4.4" fill="#F23645"/>
<rect x="2639" y="412.1" width="2" height="26.1" fill="#089981"/>
<rect x="2635" y="429.1" width="10" height="6.1" fill="#089981"/>
<rect x="2637" y="431.1" width="6" height="2.1" fill="#2962FF"/>
<rect x="2652" y="448.4" width="2" height="51.3" fill="#F23645"/>
<rect x="2648" y="452.5" width="10" height="47.2" fill="#F23645"/>
<rect x="2665" y="453.3" width="2" height="46.6" fill="#089981"/>
<rect x="2661" y="454.3" width="10" height="32.9" fill="#089981"/>
<rect x="2663" y="456.3" width="6" height="28.9" fill="#2962FF"/>
<rect x="2679" y="456" width="2" height="29.9" fill="#F23645"/>
<rect x="2675" y="464.1" width="10" height="17.6" fill="#F23645"/>
<rect x="2692" y="464.1" width="2" height="21.8" fill="#089981"/>
<rect x="2688" y="466.3" width="10" height="17.1" fill="#089981"/>
<rect x="2690" y="468.3" width="6" height="13.1" fill="#2962FF"/>
<rect x="2705" y="421.3" width="2" height="36.4" fill="#089981"/>
<rect x="2701" y="429.1" width="10" height="27.5" fill="#089981"/>
<rect x="2703" y="431.1" width="6" height="23.5" fill="#2962FF"/>
<rect x="2718" y="414" width="2" height="40.7" fill="#F23645"/>
<rect x="2714" y="438.2" width="10" height="5.5" fill="#F23645"/>
<rect x="2732" y="405.2" width="2" height="29.6" fill="#F23645"/>
<rect x="2728" y="425.1" width="10" height="7.6" fill="#F23645"/>
<rect x="2745" y="430.2" width="2" height="21.7" fill="#F23645"/>
<rect x="2741" y="432" width="10" height="12.6" fill="#F23645"/>
<rect x="2758" y="434.1" width="2" height="30.7" fill="#F23645"/>
<rect x="2754" y="437.1" width="10" height="16.5" fill="#F23645"/>
<rect x="2771" y="471.4" width="2" height="30.2" fill="#F23645"/>
<rect x="2767" y="473.2" width="10" height="13.3" fill="#F23645"/>
<rect x="2785" y="487.2" width="2" height="24.5" fill="#F23645"/>
<rect x="2781" y="488.2" width="10" height="11.8" fill="#F23645"/>
<rect x="2798" y="497.3" width="2" height="18.4" fill="#089981"/>
<rect x="2794" y="505.4" width="10" height="7.2" fill="#089981"/>
<rect x="2796" y="507.4" width="6" height="3.2" fill="#2962FF"/>
<rect x="2811" y="503.3" width="2" height="61.3" fill="#F23645"/>
<rect x="2807" y="506.2" width="10" height="52.5" fill="#F23645"/>
<rect x="2824" y="541.5" width="2" height="37.8" fill="#089981"/>
<rect x="2820" y="543.3" width="10" height="9.9" fill="#089981"/>
<rect x="2822" y="545.3" width="6" height="5.9" fill="#2962FF"/>
<rect x="2838" y="545.2" width="2" height="16.5" fill="#F23645"/>
<rect x="2834" y="552.3" width="10" height="4.3" fill="#F23645"/>
<rect x="2851" y="513.5" width="2" height="52" fill="#089981"/>
<rect x="2847" y="516.3" width="10" height="44.9" fill="#089981"/>
<rect x="2849" y="518.3" width="6" height="40.9" fill="#2962FF"/>
<rect x="2864" y="529.3" width="2" height="23.3" fill="#F23645"/>
<rect x="2860" y="542.3" width="10" height="3.5" fill="#F23645"/>
<rect x="2878" y="528.3" width="2" height="21.2" fill="#089981"/>
<rect x="2874" y="529.3" width="10" height="18.9" fill="#089981"/>
<rect x="2876" y="531.3" width="6" height="14.9" fill="#2962FF"/>
<rect x="2891" y="528.2" width="2" height="20.3" fill="#F23645"/>
<rect x="2887" y="534.1" width="10" height="14.4" fill="#F23645"/>
<rect x="2904" y="535" width="2" height="22.7" fill="#F23645"/>
<rect x="2900" y="539.2" width="10" height="15.2" fill="#F23645"/>
<rect x="2917" y="552.4" width="2" height="13.3" fill="#F23645"/>
<rect x="2913" y="560.6" width="10" height="2" fill="#F23645"/>
<rect x="2931" y="535" width="2" height="32.7" fill="#089981"/>
<rect x="2927" y="548.5" width="10" height="13.8" fill="#089981"/>
<rect x="2929" y="550.5" width="6" height="9.8" fill="#2962FF"/>
<rect x="2944" y="543.3" width="2" height="32" fill="#F23645"/>
<rect x="2940" y="548.2" width="10" height="23.4" fill="#F23645"/>
<rect x="2957" y="566.1" width="2" height="29.5" fill="#F23645"/>
<rect x="2953" y="571.2" width="10" height="5.5" fill="#F23645"/>
<rect x="2970" y="557.2" width="2" height="33.5" fill="#089981"/>
<rect x="2966" y="560.3" width="10" height="2" fill="#089981"/>
<rect x="2984" y="565.3" width="2" height="22.4" fill="#089981"/>
<rect x="2980" y="572.6" width="10" height="2.7" fill="#089981"/>
<rect x="2997" y="568.2" width="2" height="13.3" fill="#F23645"/>
<rect x="2993" y="571.6" width="10" height="2.7" fill="#F23645"/>
<rect x="3010" y="552.2" width="2" height="34.5" fill="#F23645"/>
<rect x="3006" y="566.1" width="10" height="12.4" fill="#F23645"/>
<rect x="3023" y="572.3" width="2" height="13" fill="#F23645"/>
<rect x="3019" y="576.6" width="10" height="2" fill="#F23645"/>
<rect x="3037" y="559.2" width="2" height="16.5" fill="#089981"/>
<rect x="3033" y="569.5" width="10" height="3.5" fill="#089981"/>
<rect x="3050" y="569.1" width="2" height="20.6" fill="#F23645"/>
<rect x="3046" y="573" width="10" height="11.9" fill="#F23645"/>
</g>
<path d="M159.5,974.3 H186.5 Q190.5,974.3 190.5,978.3 V999.5 L173,1011.5 L155.5,999.5 V978.3 Q155.5,974.3 159.5,974.3 Z" fill="#fff" stroke="#F23645" stroke-width="2.7" stroke-linejoin="round"/>
<text x="173" y="998.9" font-size="23" font-weight="bold" fill="#F23645" text-anchor="middle" transform="translate(173,0) scale(0.9,1) translate(-173,0)">E</text>
<path d="M1021.5,974.3 H1048.5 Q1052.5,974.3 1052.5,978.3 V999.5 L1035,1011.5 L1017.5,999.5 V978.3 Q1017.5,974.3 1021.5,974.3 Z" fill="#fff" stroke="#F23645" stroke-width="2.7" stroke-linejoin="round"/>
<text x="1035" y="998.9" font-size="23" font-weight="bold" fill="#F23645" text-anchor="middle" transform="translate(1035,0) scale(0.9,1) translate(-1035,0)">E</text>
<path d="M1803.5,974.3 H1830.5 Q1834.5,974.3 1834.5,978.3 V999.5 L1817,1011.5 L1799.5,999.5 V978.3 Q1799.5,974.3 1803.5,974.3 Z" fill="#fff" stroke="#F23645" stroke-width="2.7" stroke-linejoin="round"/>
<text x="1817" y="998.9" font-size="23" font-weight="bold" fill="#F23645" text-anchor="middle" transform="translate(1817,0) scale(0.9,1) translate(-1817,0)">E</text>
<path d="M2622.5,983 L2640,971 L2657.5,983 V1004.6 Q2657.5,1008.6 2653.5,1008.6 H2626.5 Q2622.5,1008.6 2622.5,1004.6 Z" fill="#fff" stroke="#089981" stroke-width="2.7" stroke-linejoin="round"/>
<text x="2640" y="998.9" font-size="23" font-weight="bold" fill="#089981" text-anchor="middle" transform="translate(2640,0) scale(0.9,1) translate(-2640,0)">E</text>
<text x="36.1" y="93.7" font-size="24" fill="#131722" textLength="306.1" lengthAdjust="spacingAndGlyphs">Strategy Inc · 1D · NASDAQ</text>
<text x="355.7" y="93.7" font-size="24" fill="#131722" textLength="17.5" lengthAdjust="spacingAndGlyphs">O</text>
<text x="374.4" y="93.7" font-size="24" fill="#F23645" textLength="80.5" lengthAdjust="spacingAndGlyphs">329.40</text>
<text x="469.5" y="93.7" font-size="24" fill="#131722" textLength="17.1" lengthAdjust="spacingAndGlyphs">H</text>
<text x="487.8" y="93.7" font-size="24" fill="#F23645" textLength="75.6" lengthAdjust="spacingAndGlyphs">331.33</text>
<text x="577.7" y="93.7" font-size="24" fill="#131722" textLength="12.2" lengthAdjust="spacingAndGlyphs">L</text>
<text x="590.7" y="93.7" font-size="24" fill="#F23645" textLength="80.2" lengthAdjust="spacingAndGlyphs">320.45</text>
<text x="685.1" y="93.7" font-size="24" fill="#131722" textLength="16.5" lengthAdjust="spacingAndGlyphs">C</text>
<text x="702.8" y="93.7" font-size="24" fill="#F23645" textLength="79.1" lengthAdjust="spacingAndGlyphs">323.29</text>
<text x="796.2" y="93.7" font-size="24" fill="#131722" textLength="34.3" lengthAdjust="spacingAndGlyphs">Vol</text>
<text x="830.7" y="93.7" font-size="24" fill="#F23645" textLength="48.1" lengthAdjust="spacingAndGlyphs">4.68</text>
<text x="881.8" y="93.7" font-size="24" fill="#F23645" textLength="24.1" lengthAdjust="spacingAndGlyphs">M</text>
<text x="36.1" y="128.2" font-size="24" fill="#131722" textLength="187.3" lengthAdjust="spacingAndGlyphs">WMA (50, close)</text>
<text x="238.4" y="128.2" font-size="24" fill="#2962FF" textLength="77.7" lengthAdjust="spacingAndGlyphs">358.72</text>
<text x="36.1" y="161.7" font-size="24" fill="#131722" textLength="201.4" lengthAdjust="spacingAndGlyphs">WMA (200, close)</text>
<text x="252.5" y="161.7" font-size="24" fill="#E91E63" textLength="79.1" lengthAdjust="spacingAndGlyphs">362.57</text>
<text x="3424.4" y="148.5" font-size="33" fill="#131722" textLength="104.8" lengthAdjust="spacingAndGlyphs">550.00</text>
<text x="3424.4" y="247.3" font-size="33" fill="#131722" textLength="104.8" lengthAdjust="spacingAndGlyphs">500.00</text>
<text x="3424.4" y="346" font-size="33" fill="#131722" textLength="104.8" lengthAdjust="spacingAndGlyphs">450.00</text>
<text x="3424.4" y="444.8" font-size="33" fill="#131722" textLength="104.8" lengthAdjust="spacingAndGlyphs">400.00</text>
<text x="3424.4" y="543.6" font-size="33" fill="#131722" textLength="104.8" lengthAdjust="spacingAndGlyphs">350.00</text>
<text x="3424.4" y="642.4" font-size="33" fill="#131722" textLength="104.8" lengthAdjust="spacingAndGlyphs">300.00</text>
<text x="3424.4" y="741.2" font-size="33" fill="#131722" textLength="104.8" lengthAdjust="spacingAndGlyphs">250.00</text>
<text x="3424.4" y="840" font-size="33" fill="#131722" textLength="104.8" lengthAdjust="spacingAndGlyphs">200.00</text>
<text x="3424.4" y="938.8" font-size="33" fill="#131722" textLength="104.8" lengthAdjust="spacingAndGlyphs">150.00</text>
<rect x="3410.5" y="62.5" width="135" height="51" rx="8" fill="#fff" stroke="#EEEEEE" stroke-width="1.5"/>
<text x="3429.2" y="96" font-size="24" fill="#131722" textLength="48.8" lengthAdjust="spacingAndGlyphs">USD</text>
<path d="M3404,490 H3540 Q3544,490 3544,494 V532 Q3544,536 3540,536 H3404 Z" fill="#FFEB3B"/>
<text x="3425.4" y="524.5" font-size="33" fill="#000000" textLength="104.6" lengthAdjust="spacingAndGlyphs">359.48</text>
<path d="M3404,747 H3540 Q3544,747 3544,751 V788.7 Q3544,792.7 3540,792.7 H3404 Z" fill="#F23645"/>
<text x="3425.8" y="781.6" font-size="33" fill="#FFFFFF" textLength="104.2" lengthAdjust="spacingAndGlyphs">229.56</text>
<rect x="22" y="1281.8" width="11" height="13.2" fill="#B2DFDB"/>
<rect x="35" y="1285.9" width="11" height="9.1" fill="#B2DFDB"/>
<rect x="48" y="1289.2" width="12" height="5.8" fill="#B2DFDB"/>
<rect x="62" y="1285.9" width="11" height="9.1" fill="#26A69A"/>
<rect x="75" y="1285" width="11" height="10" fill="#26A69A"/>
<rect x="88" y="1284" width="11" height="11" fill="#26A69A"/>
<rect x="101" y="1287.3" width="12" height="7.7" fill="#B2DFDB"/>
<rect x="115" y="1283.1" width="11" height="11.9" fill="#26A69A"/>
<rect x="128" y="1283.1" width="11" height="11.9" fill="#26A69A"/>
<rect x="141" y="1277.9" width="12" height="17.1" fill="#26A69A"/>
<rect x="155" y="1276.3" width="11" height="18.7" fill="#26A69A"/>
<rect x="168" y="1279" width="11" height="16" fill="#B2DFDB"/>
<rect x="181" y="1284" width="11" height="11" fill="#B2DFDB"/>
<rect x="194" y="1290.8" width="12" height="4.2" fill="#B2DFDB"/>
<rect x="208" y="1293" width="11" height="6.6" fill="#FF5252"/>
<rect x="221" y="1293" width="11" height="10.7" fill="#FF5252"/>
<rect x="234" y="1293" width="11" height="5.8" fill="#FFCDD2"/>
<rect x="247" y="1291.9" width="12" height="3.1" fill="#26A69A"/>
<rect x="261" y="1289.2" width="11" height="5.8" fill="#26A69A"/>
<rect x="274" y="1270.2" width="11" height="24.8" fill="#26A69A"/>
<rect x="287" y="1255.1" width="11" height="39.9" fill="#26A69A"/>
<rect x="300" y="1257" width="12" height="38" fill="#B2DFDB"/>
<rect x="314" y="1261.2" width="11" height="33.8" fill="#B2DFDB"/>
<rect x="327" y="1263.1" width="11" height="31.9" fill="#B2DFDB"/>
<rect x="340" y="1255.1" width="11" height="39.9" fill="#26A69A"/>
<rect x="353" y="1241.1" width="12" height="53.9" fill="#26A69A"/>
<rect x="367" y="1225.4" width="11" height="69.6" fill="#26A69A"/>
<rect x="380" y="1241.1" width="11" height="53.9" fill="#B2DFDB"/>
<rect x="393" y="1248.2" width="12" height="46.8" fill="#B2DFDB"/>
<rect x="407" y="1262" width="11" height="33" fill="#B2DFDB"/>
<rect x="420" y="1287.3" width="11" height="7.7" fill="#B2DFDB"/>
<rect x="433" y="1293" width="11" height="3.9" fill="#FF5252"/>
<rect x="446" y="1293" width="12" height="11.6" fill="#FF5252"/>
<rect x="460" y="1293" width="11" height="19.5" fill="#FF5252"/>
<rect x="473" y="1293" width="11" height="26.7" fill="#FF5252"/>
<rect x="486" y="1293" width="11" height="23.1" fill="#FFCDD2"/>
<rect x="499" y="1293" width="12" height="26.7" fill="#FF5252"/>
<rect x="513" y="1293" width="11" height="26.7" fill="#FF5252"/>
<rect x="526" y="1293" width="11" height="35.5" fill="#FF5252"/>
<rect x="539" y="1293" width="11" height="36.8" fill="#FF5252"/>
<rect x="552" y="1293" width="12" height="28.6" fill="#FFCDD2"/>
<rect x="566" y="1293" width="11" height="28.6" fill="#FFCDD2"/>
<rect x="579" y="1293" width="11" height="23.6" fill="#FFCDD2"/>
<rect x="592" y="1293" width="11" height="20.9" fill="#FFCDD2"/>
<rect x="605" y="1293" width="12" height="24.5" fill="#FF5252"/>
<rect x="619" y="1293" width="11" height="37.4" fill="#FF5252"/>
<rect x="632" y="1293" width="11" height="50.6" fill="#FF5252"/>
<rect x="645" y="1293" width="12" height="46.5" fill="#FFCDD2"/>
<rect x="659" y="1293" width="11" height="51.4" fill="#FF5252"/>
<rect x="672" y="1293" width="11" height="45.6" fill="#FFCDD2"/>
<rect x="685" y="1293" width="11" height="44.5" fill="#FFCDD2"/>
<rect x="698" y="1293" width="12" height="45.6" fill="#FF5252"/>
<rect x="712" y="1293" width="11" height="51.4" fill="#FF5252"/>
<rect x="725" y="1293" width="11" height="56.6" fill="#FF5252"/>
<rect x="738" y="1293" width="11" height="53.9" fill="#FFCDD2"/>
<rect x="751" y="1293" width="12" height="38.2" fill="#FFCDD2"/>
<rect x="765" y="1293" width="11" height="17.6" fill="#FFCDD2"/>
<rect x="778" y="1293" width="11" height="11.3" fill="#FFCDD2"/>
<rect x="791" y="1293" width="11" height="11.6" fill="#FFCDD2"/>
<rect x="804" y="1293" width="12" height="11.6" fill="#FFCDD2"/>
<rect x="818" y="1293" width="11" height="10.7" fill="#FFCDD2"/>
<rect x="831" y="1293" width="11" height="5.8" fill="#FFCDD2"/>
<rect x="844" y="1290" width="12" height="5" fill="#26A69A"/>
<rect x="858" y="1283.1" width="11" height="11.9" fill="#26A69A"/>
<rect x="871" y="1270.8" width="11" height="24.2" fill="#26A69A"/>
<rect x="884" y="1267.2" width="11" height="27.8" fill="#26A69A"/>
<rect x="897" y="1268.8" width="12" height="26.2" fill="#B2DFDB"/>
<rect x="911" y="1273" width="11" height="22" fill="#B2DFDB"/>
<rect x="924" y="1281.2" width="11" height="13.8" fill="#B2DFDB"/>
<rect x="937" y="1288.6" width="11" height="6.4" fill="#B2DFDB"/>
<rect x="950" y="1293" width="12" height="4.7" fill="#FF5252"/>
<rect x="964" y="1293" width="11" height="8.8" fill="#FF5252"/>
<rect x="977" y="1293" width="11" height="11.6" fill="#FF5252"/>
<rect x="990" y="1293" width="11" height="13.5" fill="#FF5252"/>
<rect x="1003" y="1293" width="12" height="11.6" fill="#FFCDD2"/>
<rect x="1017" y="1293" width="11" height="8.5" fill="#FFCDD2"/>
<rect x="1030" y="1293" width="11" height="10.7" fill="#FF5252"/>
<rect x="1043" y="1293" width="11" height="13.5" fill="#FF5252"/>
<rect x="1056" y="1293" width="12" height="14.3" fill="#FF5252"/>
<rect x="1070" y="1293" width="11" height="11.6" fill="#FFCDD2"/>
<rect x="1083" y="1293" width="11" height="14" fill="#FF5252"/>
<rect x="1096" y="1293" width="12" height="13.5" fill="#FFCDD2"/>
<rect x="1110" y="1293" width="11" height="12.7" fill="#FFCDD2"/>
<rect x="1123" y="1293" width="11" height="7.4" fill="#FFCDD2"/>
<rect x="1136" y="1293" width="11" height="4.4" fill="#FFCDD2"/>
<rect x="1149" y="1293" width="12" height="6.6" fill="#FF5252"/>
<rect x="1163" y="1293" width="11" height="6.6" fill="#FFCDD2"/>
<rect x="1176" y="1293" width="11" height="11.6" fill="#FF5252"/>
<rect x="1189" y="1293" width="11" height="19.8" fill="#FF5252"/>
<rect x="1202" y="1293" width="12" height="31.3" fill="#FF5252"/>
<rect x="1216" y="1293" width="11" height="33.5" fill="#FF5252"/>
<rect x="1229" y="1293" width="11" height="38.8" fill="#FF5252"/>
<rect x="1242" y="1293" width="11" height="35.5" fill="#FFCDD2"/>
<rect x="1255" y="1293" width="12" height="32.7" fill="#FFCDD2"/>
<rect x="1269" y="1293" width="11" height="21.2" fill="#FFCDD2"/>
<rect x="1282" y="1293" width="11" height="4.4" fill="#FFCDD2"/>
<rect x="1295" y="1287.3" width="11" height="7.7" fill="#26A69A"/>
<rect x="1308" y="1284" width="12" height="11" fill="#26A69A"/>
<rect x="1322" y="1293" width="11" height="2.5" fill="#FF5252"/>
<rect x="1335" y="1293" width="11" height="3.9" fill="#FF5252"/>
<rect x="1348" y="1293" width="12" height="2.5" fill="#FFCDD2"/>
<rect x="1362" y="1293.3" width="11" height="2" fill="#26A69A"/>
<rect x="1375" y="1283.1" width="11" height="11.9" fill="#26A69A"/>
<rect x="1388" y="1276.8" width="11" height="18.2" fill="#26A69A"/>
<rect x="1401" y="1276.8" width="12" height="18.2" fill="#26A69A"/>
<rect x="1415" y="1270.8" width="11" height="24.2" fill="#26A69A"/>
<rect x="1428" y="1268.8" width="11" height="26.2" fill="#26A69A"/>
<rect x="1441" y="1268" width="11" height="27" fill="#26A69A"/>
<rect x="1454" y="1259.8" width="12" height="35.2" fill="#26A69A"/>
<rect x="1468" y="1255.1" width="11" height="39.9" fill="#26A69A"/>
<rect x="1481" y="1257" width="11" height="38" fill="#B2DFDB"/>
<rect x="1494" y="1261.2" width="11" height="33.8" fill="#B2DFDB"/>
<rect x="1507" y="1274.9" width="12" height="20.1" fill="#B2DFDB"/>
<rect x="1521" y="1284.5" width="11" height="10.5" fill="#B2DFDB"/>
<rect x="1534" y="1286.7" width="11" height="8.3" fill="#B2DFDB"/>
<rect x="1547" y="1286.7" width="11" height="8.3" fill="#26A69A"/>
<rect x="1560" y="1293" width="12" height="2.5" fill="#FF5252"/>
<rect x="1574" y="1293" width="11" height="4.4" fill="#FF5252"/>
<rect x="1587" y="1293" width="11" height="12.7" fill="#FF5252"/>
<rect x="1600" y="1293" width="12" height="25.3" fill="#FF5252"/>
<rect x="1614" y="1293" width="11" height="16.8" fill="#FFCDD2"/>
<rect x="1627" y="1293" width="11" height="16.8" fill="#FFCDD2"/>
<rect x="1640" y="1293" width="11" height="7.4" fill="#FFCDD2"/>
<rect x="1653" y="1291.4" width="12" height="3.6" fill="#26A69A"/>
<rect x="1667" y="1286.7" width="11" height="8.3" fill="#26A69A"/>
<rect x="1680" y="1282.6" width="11" height="12.4" fill="#26A69A"/>
<rect x="1693" y="1279.6" width="11" height="15.4" fill="#26A69A"/>
<rect x="1706" y="1279" width="12" height="16" fill="#26A69A"/>
<rect x="1720" y="1271.6" width="11" height="23.4" fill="#26A69A"/>
<rect x="1733" y="1267.5" width="11" height="27.5" fill="#26A69A"/>
<rect x="1746" y="1265.8" width="11" height="29.2" fill="#26A69A"/>
<rect x="1759" y="1261.7" width="12" height="33.3" fill="#26A69A"/>
<rect x="1773" y="1260.6" width="11" height="34.4" fill="#26A69A"/>
<rect x="1786" y="1259" width="11" height="36" fill="#26A69A"/>
<rect x="1799" y="1259.8" width="11" height="35.2" fill="#B2DFDB"/>
<rect x="1812" y="1263.1" width="12" height="31.9" fill="#B2DFDB"/>
<rect x="1826" y="1263.9" width="11" height="31.1" fill="#B2DFDB"/>
<rect x="1839" y="1268" width="11" height="27" fill="#B2DFDB"/>
<rect x="1852" y="1273" width="12" height="22" fill="#B2DFDB"/>
<rect x="1866" y="1276.8" width="11" height="18.2" fill="#B2DFDB"/>
<rect x="1879" y="1274.1" width="11" height="20.9" fill="#26A69A"/>
<rect x="1892" y="1274.9" width="11" height="20.1" fill="#B2DFDB"/>
<rect x="1905" y="1279" width="12" height="16" fill="#B2DFDB"/>
<rect x="1919" y="1279.8" width="11" height="15.2" fill="#B2DFDB"/>
<rect x="1932" y="1283.1" width="11" height="11.9" fill="#B2DFDB"/>
<rect x="1945" y="1291.9" width="11" height="3.1" fill="#B2DFDB"/>
<rect x="1958" y="1293" width="12" height="4.7" fill="#FF5252"/>
<rect x="1972" y="1293" width="11" height="5.8" fill="#FF5252"/>
<rect x="1985" y="1293" width="11" height="6.6" fill="#FF5252"/>
<rect x="1998" y="1293" width="11" height="10.7" fill="#FF5252"/>
<rect x="2011" y="1293" width="12" height="14.9" fill="#FF5252"/>
<rect x="2025" y="1293" width="11" height="25.8" fill="#FF5252"/>
<rect x="2038" y="1293" width="11" height="31.9" fill="#FF5252"/>
<rect x="2051" y="1293" width="11" height="36.8" fill="#FF5252"/>
<rect x="2064" y="1293" width="12" height="36.8" fill="#FF5252"/>
<rect x="2078" y="1293" width="11" height="35.5" fill="#FFCDD2"/>
<rect x="2091" y="1293" width="11" height="32.7" fill="#FFCDD2"/>
<rect x="2104" y="1293" width="12" height="26.7" fill="#FFCDD2"/>
<rect x="2118" y="1293" width="11" height="23.6" fill="#FFCDD2"/>
<rect x="2131" y="1293" width="11" height="23.6" fill="#FFCDD2"/>
<rect x="2144" y="1293" width="11" height="21.7" fill="#FFCDD2"/>
<rect x="2157" y="1293" width="12" height="14.3" fill="#FFCDD2"/>
<rect x="2171" y="1293" width="11" height="9.4" fill="#FFCDD2"/>
<rect x="2184" y="1293" width="11" height="7.4" fill="#FFCDD2"/>
<rect x="2197" y="1293" width="11" height="8.5" fill="#FF5252"/>
<rect x="2210" y="1293" width="12" height="7.4" fill="#FFCDD2"/>
<rect x="2224" y="1293" width="11" height="7.4" fill="#FFCDD2"/>
<rect x="2237" y="1293" width="11" height="8.5" fill="#FF5252"/>
<rect x="2250" y="1293" width="11" height="11.6" fill="#FF5252"/>
<rect x="2263" y="1293" width="12" height="11.6" fill="#FF5252"/>
<rect x="2277" y="1293" width="11" height="12.7" fill="#FF5252"/>
<rect x="2290" y="1293" width="11" height="10.7" fill="#FFCDD2"/>
<rect x="2303" y="1293" width="11" height="4.7" fill="#FFCDD2"/>
<rect x="2316" y="1293" width="12" height="2.5" fill="#FFCDD2"/>
<rect x="2330" y="1292.7" width="11" height="2.3" fill="#26A69A"/>
<rect x="2343" y="1288.1" width="11" height="6.9" fill="#26A69A"/>
<rect x="2356" y="1291.9" width="12" height="3.1" fill="#B2DFDB"/>
<rect x="2370" y="1288.1" width="11" height="6.9" fill="#26A69A"/>
<rect x="2383" y="1285.3" width="11" height="9.7" fill="#26A69A"/>
<rect x="2396" y="1285.9" width="11" height="9.1" fill="#B2DFDB"/>
<rect x="2409" y="1287.3" width="12" height="7.7" fill="#B2DFDB"/>
<rect x="2423" y="1283.1" width="11" height="11.9" fill="#26A69A"/>
<rect x="2436" y="1279.8" width="11" height="15.2" fill="#26A69A"/>
<rect x="2449" y="1274.9" width="11" height="20.1" fill="#26A69A"/>
<rect x="2462" y="1268.8" width="12" height="26.2" fill="#26A69A"/>
<rect x="2476" y="1268.8" width="11" height="26.2" fill="#B2DFDB"/>
<rect x="2489" y="1267.2" width="11" height="27.8" fill="#26A69A"/>
<rect x="2502" y="1268.8" width="11" height="26.2" fill="#B2DFDB"/>
<rect x="2515" y="1279.8" width="12" height="15.2" fill="#B2DFDB"/>
<rect x="2529" y="1286.7" width="11" height="8.3" fill="#B2DFDB"/>
<rect x="2542" y="1291.9" width="11" height="3.1" fill="#B2DFDB"/>
<rect x="2555" y="1293" width="11" height="6.6" fill="#FF5252"/>
<rect x="2568" y="1293" width="12" height="11.6" fill="#FF5252"/>
<rect x="2582" y="1293" width="11" height="16.8" fill="#FF5252"/>
<rect x="2595" y="1293" width="11" height="19.8" fill="#FF5252"/>
<rect x="2608" y="1293" width="12" height="23.6" fill="#FF5252"/>
<rect x="2622" y="1293" width="11" height="25.3" fill="#FF5252"/>
<rect x="2635" y="1293" width="11" height="23.6" fill="#FFCDD2"/>
<rect x="2648" y="1293" width="11" height="31.3" fill="#FF5252"/>
<rect x="2661" y="1293" width="12" height="28.6" fill="#FFCDD2"/>
<rect x="2675" y="1293" width="11" height="29.4" fill="#FF5252"/>
<rect x="2688" y="1293" width="11" height="25.3" fill="#FFCDD2"/>
<rect x="2701" y="1293" width="11" height="17.6" fill="#FFCDD2"/>
<rect x="2714" y="1293" width="12" height="13.5" fill="#FFCDD2"/>
<rect x="2728" y="1293" width="11" height="8.5" fill="#FFCDD2"/>
<rect x="2741" y="1293" width="11" height="7.4" fill="#FFCDD2"/>
<rect x="2754" y="1293" width="11" height="6.6" fill="#FFCDD2"/>
<rect x="2767" y="1293" width="12" height="10.7" fill="#FF5252"/>
<rect x="2781" y="1293" width="11" height="14.9" fill="#FF5252"/>
<rect x="2794" y="1293" width="11" height="16.8" fill="#FF5252"/>
<rect x="2807" y="1293" width="11" height="24.5" fill="#FF5252"/>
<rect x="2820" y="1293" width="12" height="25.3" fill="#FF5252"/>
<rect x="2834" y="1293" width="11" height="26.7" fill="#FF5252"/>
<rect x="2847" y="1293" width="11" height="20.9" fill="#FFCDD2"/>
<rect x="2860" y="1293" width="12" height="19" fill="#FFCDD2"/>
<rect x="2874" y="1293" width="11" height="14.9" fill="#FFCDD2"/>
<rect x="2887" y="1293" width="11" height="12.7" fill="#FFCDD2"/>
<rect x="2900" y="1293" width="11" height="11.6" fill="#FFCDD2"/>
<rect x="2913" y="1293" width="12" height="11.6" fill="#FFCDD2"/>
<rect x="2927" y="1293" width="11" height="8.5" fill="#FFCDD2"/>
<rect x="2940" y="1293" width="11" height="8.5" fill="#FF5252"/>
<rect x="2953" y="1293" width="11" height="7.4" fill="#FFCDD2"/>
<rect x="2966" y="1293" width="12" height="4.4" fill="#FFCDD2"/>
<rect x="2980" y="1293" width="11" height="3.3" fill="#FFCDD2"/>
<rect x="2993" y="1293" width="11" height="2.5" fill="#FFCDD2"/>
<rect x="3006" y="1293" width="11" height="2" fill="#FFCDD2"/>
<rect x="3019" y="1293.3" width="12" height="2" fill="#26A69A"/>
<rect x="3033" y="1290.8" width="11" height="4.2" fill="#26A69A"/>
<rect x="3046" y="1290.8" width="11" height="4.2" fill="#B2DFDB"/>
<polyline points="20.5,1229.6 53.5,1234.2 67.2,1228.5 79.6,1224.6 93.3,1221.9 105.7,1222.7 119.4,1217.2 133.1,1213.1 145.5,1204.8 159.2,1198 173,1197.1 185.3,1198.8 199.1,1204.8 211.4,1214.5 225.2,1221.3 240.3,1217.2 252.6,1210.9 265,1206.2 278.7,1180.1 291.1,1157.6 306.2,1149.3 318.6,1144.4 332.3,1138.4 346,1121.9 358.4,1093.6 372.1,1061.4 385.9,1063.4 398.2,1059.2 412,1065.3 427.1,1089.5 438.1,1096.3 451.8,1107.3 465.5,1121 479.3,1133.4 491.6,1135.6 505.4,1145.8 517.7,1152.1 531.5,1168.6 543.8,1178.7 557.6,1177.4 571.3,1183.4 585,1184.2 597.4,1186.2 609.8,1196.6 624.9,1218 637.3,1241.9 649.6,1250.2 663.4,1266.6 677.1,1272.1 690.8,1283.1 703.2,1292.7 713.7,1307.9 730.2,1329.8 744,1340.8 756.3,1335.3 770,1318 782.4,1316.1 796.2,1318 809.9,1320.2 822.3,1321 836,1317.5 849.7,1307 863.5,1296.9 875.8,1280.4 889.6,1269.4 903.3,1265.3 915.7,1263.9 929.4,1269.4 941.8,1276.3 955.5,1284.5 969.2,1290.5 983,1295.5 995.3,1300.4 1009.1,1301 1021.4,1300.4 1035.2,1303.7 1047.5,1310 1062.6,1314.2 1073.6,1314.7 1087.4,1320.2 1101.1,1321.6 1113.5,1323 1128.6,1320.2 1142.3,1318.3 1153.3,1321 1167,1321.6 1180.8,1329.3 1194.5,1342.2 1206.9,1360.9 1220.6,1372.4 1234.3,1386.2 1246.7,1391.1 1260.4,1395.8 1274.2,1390.3 1286.5,1376.5 1300.3,1361.4 1314,1356.5 1326.4,1367.7 1340.1,1368.8 1352.5,1368.6 1364.8,1366.9 1378.6,1353.2 1392.3,1342.7 1407,1338.1 1420.7,1326.3 1433.1,1317.5 1445.4,1311.2 1457.8,1296.9 1471.5,1279.6 1483.9,1272.7 1499,1268 1511.4,1276.3 1525.1,1283.7 1538.8,1284 1551.2,1281.8 1563.6,1288.6 1577.3,1292.7 1591,1303.7 1606.2,1322.4 1618.5,1317.5 1632.3,1320.8 1644.6,1314.7 1658.3,1305.1 1670.7,1298.8 1684.5,1292.2 1698.2,1285.9 1711.9,1279 1724.3,1267.5 1738,1258.4 1750.4,1249.3 1764.1,1236.4 1777.9,1226.8 1790.2,1217.2 1804,1208.4 1816.3,1204.3 1830,1196.6 1842.4,1195.2 1856.2,1195.2 1869.9,1193.8 1882.3,1187.8 1897.4,1182 1909.7,1182.9 1923.5,1180.1 1935.8,1180.1 1949.6,1187.8 1963.3,1194.4 1975.7,1196 1989.4,1197.4 2003.1,1204.3 2015.5,1211.7 2029.2,1226.8 2043,1240.5 2055.3,1254.8 2069.1,1263.9 2081,1271.3 2094.7,1276.8 2109.8,1276.3 2122.2,1279 2135.9,1284 2149.7,1286.7 2162,1282.6 2175.8,1280.7 2188.1,1280.4 2201.9,1282.3 2215.6,1282.9 2228,1284 2241.7,1287.3 2254.1,1291.4 2267.8,1295.5 2281.5,1298.8 2295.3,1298.2 2307.6,1294.1 2321.4,1291.4 2333.7,1289.5 2347.5,1282.3 2361.2,1286.7 2374.9,1280.4 2387.3,1275.7 2401,1274.9 2413.4,1273.5 2427.1,1266.6 2440.9,1259 2453.2,1251 2468.4,1237.8 2480.7,1232.3 2494.5,1223.5 2506.8,1219.1 2520.5,1226.3 2534.3,1230.9 2548,1235.6 2560.4,1244.7 2574.1,1251.5 2587.9,1261.2 2601.6,1269.4 2614,1277.6 2626.3,1284.5 2640.1,1288.6 2653.8,1303.2 2667.6,1307.9 2681.3,1314.7 2692.3,1318 2704.7,1314.2 2718.4,1312.5 2732.1,1309.2 2745.9,1309.2 2761,1310 2774.7,1316.9 2787.1,1323 2799.5,1328.5 2811.8,1342.2 2825.5,1349.1 2837.9,1356.5 2851.6,1354.6 2866.8,1357.9 2879.1,1356.5 2892.9,1357.9 2905.2,1359.2 2917.6,1360.9 2931.3,1359.2 2945.1,1360.9 2957.4,1362.8 2971.2,1360.1 2986.3,1359.2 2998.6,1358.7 3011,1358.1 3024.7,1356.5 3037.1,1353.7 3052.2,1352.6" fill="none" stroke="#2962FF" stroke-width="2" stroke-linejoin="round"/>
<polyline points="20.5,1243.8 53.5,1238.4 93.3,1231.5 133.1,1224.1 159.2,1215.8 185.3,1209.8 204.6,1209 225.2,1212.5 245.8,1213.1 265,1211.7 278.7,1205.4 291.1,1196 306.2,1185.6 320,1176 332.3,1169.1 346,1160.3 358.4,1146.6 370.8,1132 384.5,1118.3 398.2,1105.4 412,1097.1 427.1,1095.5 438.1,1095.8 451.8,1098.2 465.5,1103.2 479.3,1108.7 493,1114.2 506.8,1121 519.1,1127.4 531.5,1134.8 543.8,1143.8 557.6,1149.9 571.3,1157.6 585,1163.1 597.4,1166.9 609.8,1172.7 623.5,1181.5 637.3,1193.8 649.6,1204.8 663.4,1217.2 677.1,1228.2 689.5,1239.2 703.2,1249.3 713.7,1259.8 727.5,1273.5 741.2,1287.3 754.9,1298.2 771.4,1303.2 787.9,1306.5 804.4,1309.8 820.9,1312.5 837.4,1312.8 853.8,1310.6 867.6,1305.9 881.3,1299.6 895.1,1293.3 908.8,1287.3 922.5,1283.1 936.3,1280.9 950,1280.9 963.7,1282.3 977.5,1284 991.2,1286.7 1004.9,1290 1018.7,1292.7 1032.4,1295.5 1046.2,1298.8 1059.9,1302.4 1073.6,1305.7 1087.4,1308.7 1101.1,1311.4 1114.8,1313.4 1128.6,1314.2 1142.3,1314.7 1156,1316.1 1169.8,1317.5 1183.5,1320.2 1197.3,1324.9 1211,1331.8 1224.7,1340.8 1238.5,1350.4 1252.2,1359.5 1263.2,1366.4 1276.9,1369.7 1290.7,1370.2 1304.4,1368.3 1318.1,1366.4 1331.9,1366.9 1345.6,1367.5 1359.3,1366.9 1373.1,1364.7 1386.8,1360.9 1401.5,1357.3 1418,1350.4 1431.7,1343.6 1445.4,1336.7 1459.2,1328.5 1472.9,1317.5 1486.6,1308.7 1500.4,1301 1514.1,1295.5 1527.9,1293.3 1541.6,1291.4 1555.3,1290 1569.1,1290 1582.8,1291.4 1596.5,1295 1610.3,1300.4 1624,1304.3 1637.7,1307 1651.5,1307.9 1665.2,1307 1679,1304.6 1692.7,1301 1706.4,1297.4 1720.2,1291.4 1733.9,1285.3 1747.6,1278.5 1761.4,1270.2 1775.1,1262 1788.8,1252.9 1802.6,1243.8 1816.3,1235.6 1830,1226.8 1843.8,1220.5 1857.5,1215 1871.3,1209.8 1885,1204.3 1898.7,1199.3 1912.5,1195.2 1926.2,1192.5 1940,1190.5 1953.7,1190.5 1967.4,1191.9 1981.2,1192.7 1994.9,1193.8 2008.6,1196.6 2022.4,1200.7 2036.1,1207 2049.8,1215.8 2063.6,1225.4 2070,1229 2083.7,1238.4 2097.5,1246 2111.2,1252.1 2124.9,1258.4 2138.7,1263.9 2152.4,1268.6 2166.2,1271.6 2179.9,1273.5 2193.6,1274.9 2207.4,1276.3 2221.1,1277.6 2234.8,1279 2248.6,1281.2 2262.3,1284 2276,1286.7 2289.8,1289.2 2303.5,1290.5 2317.3,1290.8 2331,1290.5 2344.7,1290 2358.5,1289.2 2372.2,1287.3 2385.9,1285.1 2399.7,1283.1 2413.4,1280.9 2427.1,1277.6 2440.9,1273 2454.6,1267.5 2468.4,1261.2 2482.1,1254.3 2495.8,1248 2509.6,1242.5 2523.3,1239.2 2537.1,1237.8 2550.8,1237.8 2564.5,1239.2 2578.3,1241.9 2592,1246.6 2605.8,1251.5 2619.5,1258.4 2633.2,1264.7 2647,1272.1 2660.7,1280.4 2674.5,1287.8 2688.2,1294.1 2701.9,1298.2 2715.7,1301 2729.4,1302.9 2743.1,1304.3 2756.9,1305.1 2763.7,1305.1 2777.5,1307.9 2799.5,1314.2 2818.7,1323 2837.9,1331.8 2854.4,1337.3 2875,1343 2895.6,1347.7 2917.6,1351.3 2936.8,1353.7 2956,1355.9 2978,1357.3 2997.3,1357.9 3011,1357.9 3024.7,1357.3 3038.5,1356.8 3052.2,1355.9" fill="none" stroke="#FF6D00" stroke-width="2" stroke-linejoin="round"/>
<line x1="20" y1="1294" x2="3396" y2="1294" stroke="#787B86" stroke-opacity="0.5" stroke-width="2" stroke-dasharray="10 12"/>
<line x1="2520" y1="1207.6" x2="3184" y2="1367.7" stroke="#2962FF" stroke-width="2"/>
<text x="36.3" y="1057.6" font-size="24" fill="#131722" textLength="235.9" lengthAdjust="spacingAndGlyphs">MACD (12, 26, close)</text>
<text x="288.4" y="1057.6" font-size="24" fill="#B2DFDB" textLength="77.7" lengthAdjust="spacingAndGlyphs">0.7554</text>
<text x="380.4" y="1057.6" font-size="24" fill="#2962FF" textLength="71.7" lengthAdjust="spacingAndGlyphs">−14.17</text>
<text x="466.1" y="1057.6" font-size="24" fill="#FF6D00" textLength="75" lengthAdjust="spacingAndGlyphs">−14.92</text>
<text x="3423.6" y="1056.6" font-size="33" fill="#131722" textLength="86" lengthAdjust="spacingAndGlyphs">60.00</text>
<text x="3423.6" y="1139.8" font-size="33" fill="#131722" textLength="86" lengthAdjust="spacingAndGlyphs">40.00</text>
<text x="3423.6" y="1223" font-size="33" fill="#131722" textLength="86" lengthAdjust="spacingAndGlyphs">20.00</text>
<text x="3423.6" y="1306.2" font-size="33" fill="#131722" textLength="106" lengthAdjust="spacingAndGlyphs">0.0000</text>
<text x="3423.8" y="1389.4" font-size="33" fill="#131722" textLength="105.8" lengthAdjust="spacingAndGlyphs">−20.00</text>
<rect x="20" y="1563.6" width="3382" height="237.1" fill="#7E57C2" fill-opacity="0.1"/>
<polygon points="20,1592.5 26.9,1607 40.2,1608.1 53.4,1610.9 66.7,1565 80,1560.1 93.2,1559 106.5,1583.4 119.7,1545.2 133,1551.8 146.3,1523 159.5,1519.7 172.8,1562.3 186.1,1572.7 199.3,1622.7 212.6,1643.8 225.9,1632.3 239.1,1577.4 252.4,1560.1 265.6,1560.9 278.9,1497.1 292.2,1488.1 305.4,1554.6 318.7,1555.9 332,1544.4 345.2,1518.3 358.5,1490.3 371.8,1474.3 385,1589.7 398.3,1574.6 411.5,1597.1 424.8,1650.2 438.1,1624.9 451.3,1626.3 464.6,1634.5 477.9,1641.9 491.1,1615.8 504.4,1637.8 517.6,1630.9 530.9,1664.5 544.2,1652.9 557.4,1623.5 570.7,1646 584,1631.8 597.2,1631.8 610.5,1658.4 623.8,1698.2 637,1719.7 650.3,1679.8 663.5,1709.2 676.8,1683.7 690.1,1699.1 703.3,1709.2 716.6,1732.6 729.9,1743 743.1,1730.4 756.4,1686.7 769.7,1651 782.9,1686.7 796.2,1695.5 809.4,1698.8 822.7,1698.8 836,1683.1 849.2,1663.9 862.5,1657 875.8,1628.2 889,1637.8 902.3,1653.5 915.6,1659 928.8,1684 942.1,1691.9 955.3,1705.9 968.6,1698.8 981.9,1700.4 995.1,1707.9 1008.4,1687.3 1021.7,1685.3 1034.9,1703.2 1048.2,1721.6 1061.5,1717.5 1074.7,1703.2 1088,1727.9 1101.2,1712.5 1114.5,1715.5 1127.8,1688.6 1141,1696 1154.3,1724.3 1167.6,1712.5 1180.8,1751.8 1194.1,1775.7 1207.4,1810.3 1220.6,1782 1233.9,1804.8 1247.1,1772.4 1260.4,1777.1 1273.7,1727.1 1286.9,1676.8 1300.2,1683.1 1313.5,1706.5 1326.7,1760.6 1340,1728.5 1353.3,1725.7 1366.5,1724.3 1379.8,1674.9 1393,1679 1406.3,1694.1 1419.6,1665.3 1432.8,1668 1446.1,1665.8 1459.4,1624.1 1472.6,1616.6 1485.9,1639.2 1499.1,1648 1512.4,1702.4 1525.7,1703.7 1538.9,1676.3 1552.2,1666.6 1565.5,1710.6 1578.7,1693.3 1592,1726.3 1605.3,1759.2 1618.5,1679.8 1631.8,1705.7 1645,1674.9 1658.3,1662.5 1671.6,1663.4 1684.8,1662.5 1698.1,1656.2 1711.4,1655.7 1724.6,1624.9 1737.9,1621.3 1751.2,1616.6 1764.4,1596 1777.7,1595.2 1790.9,1582 1804.2,1584.8 1817.5,1582.9 1830.7,1568.3 1844,1587.8 1857.3,1589.7 1870.5,1580.7 1883.8,1554 1897.1,1552.1 1910.3,1582.9 1923.6,1562.8 1936.8,1576 1950.1,1626 1963.4,1621.3 1976.6,1600.7 1989.9,1596 2003.2,1631.8 2016.4,1639.7 2029.7,1702.4 2043,1696.9 2056.2,1711.4 2069.5,1697.7 2082.7,1700.4 2096,1692.7 2109.3,1659 2122.5,1682.6 2135.8,1701 2149.1,1687.3 2162.3,1649.6 2175.6,1652.1 2188.9,1662.5 2202.1,1680.9 2215.4,1673.5 2228.6,1675.4 2241.9,1694.1 2255.2,1711.2 2268.4,1708.7 2281.7,1715.5 2295,1684 2308.2,1649.6 2321.5,1657.6 2334.7,1665.8 2348,1613.1 2361.3,1698.8 2374.5,1639.2 2387.8,1635.9 2401.1,1656.2 2414.3,1653.5 2427.6,1618.6 2440.9,1606.2 2454.1,1587.5 2467.4,1565.5 2480.6,1589.7 2493.9,1571.3 2507.2,1584.2 2520.4,1653.5 2533.7,1648 2547,1648 2560.2,1679 2573.5,1674.3 2586.8,1695 2600,1699.6 2613.3,1718.8 2626.5,1718 2639.8,1699.1 2653.1,1766.9 2666.3,1712.5 2679.6,1734.8 2692.9,1716.9 2706.1,1679.8 2719.4,1691.9 2732.7,1682.6 2745.9,1694.1 2759.2,1702.9 2772.4,1734.8 2785.7,1745 2799,1750.4 2812.2,1790.3 2825.5,1768.8 2838.8,1778.7 2852,1727.9 2865.3,1750.4 2878.6,1732 2891.8,1746.3 2905.1,1751.3 2918.3,1758.7 2931.6,1739.5 2944.9,1758.7 2958.1,1763.4 2971.4,1739.5 2984.7,1750.4 2997.9,1753.2 3011.2,1757.3 3024.5,1758.1 3037.7,1738.9 3051,1758.1 3051,1563.6 20,1563.6" fill="url(#ob)" clip-path="url(#cpOB)"/>
<polygon points="20,1592.5 26.9,1607 40.2,1608.1 53.4,1610.9 66.7,1565 80,1560.1 93.2,1559 106.5,1583.4 119.7,1545.2 133,1551.8 146.3,1523 159.5,1519.7 172.8,1562.3 186.1,1572.7 199.3,1622.7 212.6,1643.8 225.9,1632.3 239.1,1577.4 252.4,1560.1 265.6,1560.9 278.9,1497.1 292.2,1488.1 305.4,1554.6 318.7,1555.9 332,1544.4 345.2,1518.3 358.5,1490.3 371.8,1474.3 385,1589.7 398.3,1574.6 411.5,1597.1 424.8,1650.2 438.1,1624.9 451.3,1626.3 464.6,1634.5 477.9,1641.9 491.1,1615.8 504.4,1637.8 517.6,1630.9 530.9,1664.5 544.2,1652.9 557.4,1623.5 570.7,1646 584,1631.8 597.2,1631.8 610.5,1658.4 623.8,1698.2 637,1719.7 650.3,1679.8 663.5,1709.2 676.8,1683.7 690.1,1699.1 703.3,1709.2 716.6,1732.6 729.9,1743 743.1,1730.4 756.4,1686.7 769.7,1651 782.9,1686.7 796.2,1695.5 809.4,1698.8 822.7,1698.8 836,1683.1 849.2,1663.9 862.5,1657 875.8,1628.2 889,1637.8 902.3,1653.5 915.6,1659 928.8,1684 942.1,1691.9 955.3,1705.9 968.6,1698.8 981.9,1700.4 995.1,1707.9 1008.4,1687.3 1021.7,1685.3 1034.9,1703.2 1048.2,1721.6 1061.5,1717.5 1074.7,1703.2 1088,1727.9 1101.2,1712.5 1114.5,1715.5 1127.8,1688.6 1141,1696 1154.3,1724.3 1167.6,1712.5 1180.8,1751.8 1194.1,1775.7 1207.4,1810.3 1220.6,1782 1233.9,1804.8 1247.1,1772.4 1260.4,1777.1 1273.7,1727.1 1286.9,1676.8 1300.2,1683.1 1313.5,1706.5 1326.7,1760.6 1340,1728.5 1353.3,1725.7 1366.5,1724.3 1379.8,1674.9 1393,1679 1406.3,1694.1 1419.6,1665.3 1432.8,1668 1446.1,1665.8 1459.4,1624.1 1472.6,1616.6 1485.9,1639.2 1499.1,1648 1512.4,1702.4 1525.7,1703.7 1538.9,1676.3 1552.2,1666.6 1565.5,1710.6 1578.7,1693.3 1592,1726.3 1605.3,1759.2 1618.5,1679.8 1631.8,1705.7 1645,1674.9 1658.3,1662.5 1671.6,1663.4 1684.8,1662.5 1698.1,1656.2 1711.4,1655.7 1724.6,1624.9 1737.9,1621.3 1751.2,1616.6 1764.4,1596 1777.7,1595.2 1790.9,1582 1804.2,1584.8 1817.5,1582.9 1830.7,1568.3 1844,1587.8 1857.3,1589.7 1870.5,1580.7 1883.8,1554 1897.1,1552.1 1910.3,1582.9 1923.6,1562.8 1936.8,1576 1950.1,1626 1963.4,1621.3 1976.6,1600.7 1989.9,1596 2003.2,1631.8 2016.4,1639.7 2029.7,1702.4 2043,1696.9 2056.2,1711.4 2069.5,1697.7 2082.7,1700.4 2096,1692.7 2109.3,1659 2122.5,1682.6 2135.8,1701 2149.1,1687.3 2162.3,1649.6 2175.6,1652.1 2188.9,1662.5 2202.1,1680.9 2215.4,1673.5 2228.6,1675.4 2241.9,1694.1 2255.2,1711.2 2268.4,1708.7 2281.7,1715.5 2295,1684 2308.2,1649.6 2321.5,1657.6 2334.7,1665.8 2348,1613.1 2361.3,1698.8 2374.5,1639.2 2387.8,1635.9 2401.1,1656.2 2414.3,1653.5 2427.6,1618.6 2440.9,1606.2 2454.1,1587.5 2467.4,1565.5 2480.6,1589.7 2493.9,1571.3 2507.2,1584.2 2520.4,1653.5 2533.7,1648 2547,1648 2560.2,1679 2573.5,1674.3 2586.8,1695 2600,1699.6 2613.3,1718.8 2626.5,1718 2639.8,1699.1 2653.1,1766.9 2666.3,1712.5 2679.6,1734.8 2692.9,1716.9 2706.1,1679.8 2719.4,1691.9 2732.7,1682.6 2745.9,1694.1 2759.2,1702.9 2772.4,1734.8 2785.7,1745 2799,1750.4 2812.2,1790.3 2825.5,1768.8 2838.8,1778.7 2852,1727.9 2865.3,1750.4 2878.6,1732 2891.8,1746.3 2905.1,1751.3 2918.3,1758.7 2931.6,1739.5 2944.9,1758.7 2958.1,1763.4 2971.4,1739.5 2984.7,1750.4 2997.9,1753.2 3011.2,1757.3 3024.5,1758.1 3037.7,1738.9 3051,1758.1 3051,1800.7 20,1800.7" fill="url(#os)" clip-path="url(#cpOS)"/>
<polyline points="20,1592.5 26.9,1607 40.2,1608.1 53.4,1610.9 66.7,1565 80,1560.1 93.2,1559 106.5,1583.4 119.7,1545.2 133,1551.8 146.3,1523 159.5,1519.7 172.8,1562.3 186.1,1572.7 199.3,1622.7 212.6,1643.8 225.9,1632.3 239.1,1577.4 252.4,1560.1 265.6,1560.9 278.9,1497.1 292.2,1488.1 305.4,1554.6 318.7,1555.9 332,1544.4 345.2,1518.3 358.5,1490.3 371.8,1474.3 385,1589.7 398.3,1574.6 411.5,1597.1 424.8,1650.2 438.1,1624.9 451.3,1626.3 464.6,1634.5 477.9,1641.9 491.1,1615.8 504.4,1637.8 517.6,1630.9 530.9,1664.5 544.2,1652.9 557.4,1623.5 570.7,1646 584,1631.8 597.2,1631.8 610.5,1658.4 623.8,1698.2 637,1719.7 650.3,1679.8 663.5,1709.2 676.8,1683.7 690.1,1699.1 703.3,1709.2 716.6,1732.6 729.9,1743 743.1,1730.4 756.4,1686.7 769.7,1651 782.9,1686.7 796.2,1695.5 809.4,1698.8 822.7,1698.8 836,1683.1 849.2,1663.9 862.5,1657 875.8,1628.2 889,1637.8 902.3,1653.5 915.6,1659 928.8,1684 942.1,1691.9 955.3,1705.9 968.6,1698.8 981.9,1700.4 995.1,1707.9 1008.4,1687.3 1021.7,1685.3 1034.9,1703.2 1048.2,1721.6 1061.5,1717.5 1074.7,1703.2 1088,1727.9 1101.2,1712.5 1114.5,1715.5 1127.8,1688.6 1141,1696 1154.3,1724.3 1167.6,1712.5 1180.8,1751.8 1194.1,1775.7 1207.4,1810.3 1220.6,1782 1233.9,1804.8 1247.1,1772.4 1260.4,1777.1 1273.7,1727.1 1286.9,1676.8 1300.2,1683.1 1313.5,1706.5 1326.7,1760.6 1340,1728.5 1353.3,1725.7 1366.5,1724.3 1379.8,1674.9 1393,1679 1406.3,1694.1 1419.6,1665.3 1432.8,1668 1446.1,1665.8 1459.4,1624.1 1472.6,1616.6 1485.9,1639.2 1499.1,1648 1512.4,1702.4 1525.7,1703.7 1538.9,1676.3 1552.2,1666.6 1565.5,1710.6 1578.7,1693.3 1592,1726.3 1605.3,1759.2 1618.5,1679.8 1631.8,1705.7 1645,1674.9 1658.3,1662.5 1671.6,1663.4 1684.8,1662.5 1698.1,1656.2 1711.4,1655.7 1724.6,1624.9 1737.9,1621.3 1751.2,1616.6 1764.4,1596 1777.7,1595.2 1790.9,1582 1804.2,1584.8 1817.5,1582.9 1830.7,1568.3 1844,1587.8 1857.3,1589.7 1870.5,1580.7 1883.8,1554 1897.1,1552.1 1910.3,1582.9 1923.6,1562.8 1936.8,1576 1950.1,1626 1963.4,1621.3 1976.6,1600.7 1989.9,1596 2003.2,1631.8 2016.4,1639.7 2029.7,1702.4 2043,1696.9 2056.2,1711.4 2069.5,1697.7 2082.7,1700.4 2096,1692.7 2109.3,1659 2122.5,1682.6 2135.8,1701 2149.1,1687.3 2162.3,1649.6 2175.6,1652.1 2188.9,1662.5 2202.1,1680.9 2215.4,1673.5 2228.6,1675.4 2241.9,1694.1 2255.2,1711.2 2268.4,1708.7 2281.7,1715.5 2295,1684 2308.2,1649.6 2321.5,1657.6 2334.7,1665.8 2348,1613.1 2361.3,1698.8 2374.5,1639.2 2387.8,1635.9 2401.1,1656.2 2414.3,1653.5 2427.6,1618.6 2440.9,1606.2 2454.1,1587.5 2467.4,1565.5 2480.6,1589.7 2493.9,1571.3 2507.2,1584.2 2520.4,1653.5 2533.7,1648 2547,1648 2560.2,1679 2573.5,1674.3 2586.8,1695 2600,1699.6 2613.3,1718.8 2626.5,1718 2639.8,1699.1 2653.1,1766.9 2666.3,1712.5 2679.6,1734.8 2692.9,1716.9 2706.1,1679.8 2719.4,1691.9 2732.7,1682.6 2745.9,1694.1 2759.2,1702.9 2772.4,1734.8 2785.7,1745 2799,1750.4 2812.2,1790.3 2825.5,1768.8 2838.8,1778.7 2852,1727.9 2865.3,1750.4 2878.6,1732 2891.8,1746.3 2905.1,1751.3 2918.3,1758.7 2931.6,1739.5 2944.9,1758.7 2958.1,1763.4 2971.4,1739.5 2984.7,1750.4 2997.9,1753.2 3011.2,1757.3 3024.5,1758.1 3037.7,1738.9 3051,1758.1" fill="none" stroke="#7E57C2" stroke-width="2" stroke-linejoin="round"/>
<polyline points="20.5,1583.4 27.4,1582.9 53.5,1589.7 65.8,1587.5 80.9,1582.9 94.7,1578.7 119.4,1573.8 133.1,1573.2 145.5,1571.3 159.8,1567.7 174.3,1565.6 185.9,1567.7 199.6,1571.3 212.3,1574.1 225.2,1575.2 239.5,1573.2 251.8,1572.7 265,1572.7 279.6,1568.3 291.6,1561.4 305.4,1561.7 317.7,1562.3 331.8,1563.6 344.7,1563.6 357.9,1558.1 371.9,1551.3 385.1,1548.5 397.7,1543.6 412,1541.6 425.7,1546.6 438.1,1551.3 451.8,1556.2 464.7,1565 477.9,1576 491.6,1580.7 504,1587 517.7,1593 531.5,1604 543.8,1615.3 557.6,1626 570,1630.4 583.7,1634.2 597.4,1636.4 609.8,1637.3 623.5,1642.7 637.3,1649.3 649.6,1652.9 663.4,1657.9 677.1,1662.5 689.5,1667.2 703.2,1671.6 713.7,1676.8 727.5,1683.1 742.6,1690.5 756.3,1694.1 770,1695.5 783.8,1699.1 796.2,1701.5 809.9,1701.5 822.3,1700.4 836,1700.4 849.7,1697.7 862.1,1695.5 875.8,1690.8 889.6,1685.9 901.9,1679.8 915.7,1673.5 929.4,1670.2 941.8,1670.8 955.5,1674.3 969.2,1675.4 981.6,1675.7 995.3,1676.3 1007.7,1675.7 1021.4,1675.7 1035.2,1678.5 1047.5,1683.1 1061.3,1689.5 1073.6,1694.1 1087.4,1699.1 1101.1,1703.2 1114,1705.7 1127.7,1705.7 1140.9,1705.1 1153.8,1706.5 1167.6,1707.9 1180.8,1710.6 1194.5,1717.5 1207.7,1725.7 1220.1,1731.8 1233.8,1737.5 1247.5,1741.4 1260.4,1746.3 1274.2,1746.3 1287.4,1744.1 1300.3,1742.2 1314,1743.3 1326.4,1747.1 1340.1,1747.7 1353.3,1748.5 1366.2,1746.3 1379.9,1739.5 1393.1,1731.2 1406.2,1724.3 1419.9,1714.7 1433.1,1706.5 1446,1699.6 1459.7,1691.4 1472.4,1687.3 1486.1,1684.5 1499.8,1680.9 1512.2,1675.7 1525.9,1674.1 1538.8,1670.8 1552,1666.6 1565.8,1668.6 1578.1,1669.4 1592.4,1672.1 1606.2,1678.5 1618,1679 1631.7,1681.8 1645.4,1685.9 1658.3,1689.2 1671.5,1690.8 1684.5,1691.9 1698.2,1689.2 1711.4,1685.9 1724.3,1681.8 1738,1678.5 1751.2,1672.7 1764.1,1665.8 1777.9,1657 1791.6,1643.3 1804,1636.4 1817.7,1628.2 1830.1,1620 1844.3,1614.5 1857.5,1609.5 1869.9,1604 1883.6,1596.6 1897.4,1588.9 1909.7,1585.6 1924,1581.5 1935.8,1578.7 1949.6,1580.9 1963.3,1582.3 1975.7,1583.7 1989.4,1584.2 2003.1,1588.4 2015.5,1593.3 2029.2,1600.7 2043,1608.4 2056.7,1618.6 2070.4,1629 2082.4,1639.2 2096.1,1646 2109.8,1652.9 2123,1660.6 2135.9,1665.8 2149.7,1670.8 2162,1674.3 2175.8,1678.5 2188.1,1680.4 2201.9,1683.1 2215.6,1681.8 2228,1680.4 2241.7,1679.6 2256.3,1680.4 2267.8,1680.9 2282.1,1682.3 2295.3,1683.1 2307.6,1681.2 2321.4,1678.5 2334.3,1676.8 2348,1674.9 2361.8,1677.6 2374.1,1675.7 2387.9,1673 2402.4,1672.1 2414,1670.8 2427.7,1664.7 2440.9,1657 2454.6,1648.8 2467.8,1639.2 2480.2,1632.3 2493.9,1626.8 2507.6,1621.3 2520,1619.9 2533.7,1622.1 2548,1618.6 2560.4,1621.3 2574.1,1624.1 2585.7,1626.3 2600.2,1630.1 2614,1636.4 2626.3,1643.8 2640.1,1652.4 2653.8,1667.5 2666.2,1676.8 2679.9,1688.1 2692.3,1697.4 2706,1699.6 2719.7,1702.9 2732.1,1705.1 2745.9,1706.5 2759.6,1707.9 2772,1710.6 2785.7,1713.9 2799.5,1716.6 2812.4,1721.6 2825.5,1726.5 2837.9,1727.6 2851.6,1728.5 2865.4,1729.3 2878.6,1730.7 2892,1735.3 2905.2,1739.5 2918.4,1745.5 2931.3,1749 2944.5,1752.6 2958.2,1754.6 2972,1754 2984.9,1754 2998.1,1751.8 3011.8,1750.4 3024.2,1749 3037.9,1749.9 3052.2,1749.9" fill="none" stroke="#FDD835" stroke-width="2" stroke-linejoin="round"/>
<line x1="20" y1="1563.6" x2="3396" y2="1563.6" stroke="#787B86" stroke-width="2" stroke-dasharray="10 12"/>
<line x1="20" y1="1682" x2="3396" y2="1682" stroke="#787B86" stroke-opacity="0.5" stroke-width="2" stroke-dasharray="10 12"/>
<line x1="20" y1="1801" x2="3396" y2="1801" stroke="#787B86" stroke-width="2" stroke-dasharray="10 12"/>
<line x1="2467" y1="1555.9" x2="3237" y2="1798.5" stroke="#2962FF" stroke-width="2"/>
<text x="36.2" y="1472.7" font-size="24" fill="#131722" textLength="160.9" lengthAdjust="spacingAndGlyphs">RSI (14, close)</text>
<text x="212" y="1472.7" font-size="24" fill="#7E57C2" textLength="61.5" lengthAdjust="spacingAndGlyphs">37.28</text>
<text x="288.4" y="1472.7" font-size="24" fill="#FDD835" textLength="63.9" lengthAdjust="spacingAndGlyphs">38.47</text>
<text x="3423.6" y="1517.2" font-size="33" fill="#131722" textLength="86" lengthAdjust="spacingAndGlyphs">80.00</text>
<text x="3423.6" y="1635.7" font-size="33" fill="#131722" textLength="86" lengthAdjust="spacingAndGlyphs">60.00</text>
<text x="3423.6" y="1754.2" font-size="33" fill="#131722" textLength="86" lengthAdjust="spacingAndGlyphs">40.00</text>
<text x="171.1" y="1892" font-size="32" fill="#131722" textLength="58" lengthAdjust="spacingAndGlyphs">Nov</text>
<text x="436.1" y="1892" font-size="32" fill="#131722" textLength="58" lengthAdjust="spacingAndGlyphs">Dec</text>
<text x="701.7" y="1892" font-size="32" fill="#131722" font-weight="bold" textLength="84.1" lengthAdjust="spacingAndGlyphs">2025</text>
<text x="981.5" y="1892" font-size="32" fill="#131722" textLength="55.2" lengthAdjust="spacingAndGlyphs">Feb</text>
<text x="1232.4" y="1892" font-size="32" fill="#131722" textLength="56.6" lengthAdjust="spacingAndGlyphs">Mar</text>
<text x="1514.2" y="1892" font-size="32" fill="#131722" textLength="51" lengthAdjust="spacingAndGlyphs">Apr</text>
<text x="1787" y="1892" font-size="32" fill="#131722" textLength="61.5" lengthAdjust="spacingAndGlyphs">May</text>
<text x="2069.5" y="1892" font-size="32" fill="#131722" textLength="53.3" lengthAdjust="spacingAndGlyphs">Jun</text>
<text x="2340.9" y="1892" font-size="32" fill="#131722" textLength="42.7" lengthAdjust="spacingAndGlyphs">Jul</text>
<text x="2624.5" y="1892" font-size="32" fill="#131722" textLength="57.4" lengthAdjust="spacingAndGlyphs">Aug</text>
<text x="2903.5" y="1892" font-size="32" fill="#131722" textLength="57.4" lengthAdjust="spacingAndGlyphs">Sep</text>
<text x="3184.2" y="1892" font-size="32" fill="#131722" textLength="52.7" lengthAdjust="spacingAndGlyphs">Oct</text>
<g fill="#131722">
<path d="M24,1962.3 H47.9 V1991.7 H36.1 V1973.9 H24 Z"/>
<circle cx="58" cy="1968.1" r="5.8"/>
<path d="M69.9,1962.3 H83.5 L71.9,1991.7 H58.3 Z"/>
</g>
<text x="97.3" y="1991.7" font-size="41" fill="#131722" font-weight="bold" textLength="243.5" lengthAdjust="spacingAndGlyphs">TradingView</text>
</svg>
</body></html>
